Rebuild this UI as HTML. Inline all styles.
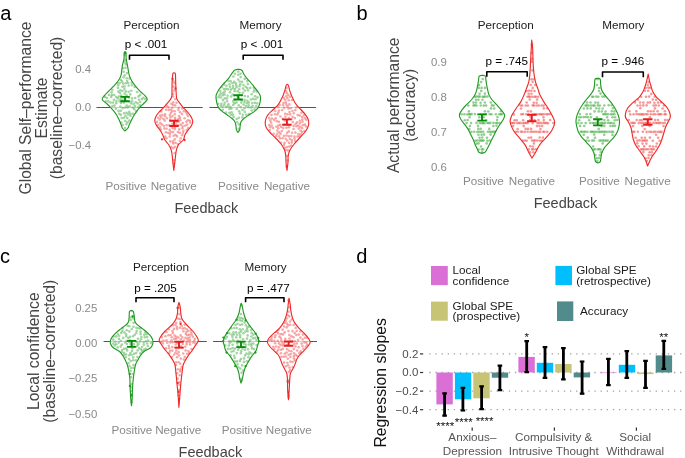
<!DOCTYPE html>
<html><head><meta charset="utf-8"><style>
html,body{margin:0;padding:0;background:#fff;width:685px;height:458px;overflow:hidden}
svg{display:block;will-change:transform}
text{font-family:"Liberation Sans", sans-serif}
</style></head><body>
<svg width="685" height="458" viewBox="0 0 685 458">
<text x="0.3" y="20.4" font-size="20.00" fill="#000" text-anchor="start" >a</text>
<g transform="translate(31.3,108.0) rotate(-90)">
<text x="0" y="0.0" font-size="15.65" fill="#444444" text-anchor="middle">Global Self–performance</text>
<text x="0" y="15.6" font-size="15.65" fill="#444444" text-anchor="middle">Estimate</text>
<text x="0" y="31.2" font-size="15.65" fill="#444444" text-anchor="middle">(baseline–corrected)</text>
</g>
<text x="91.0" y="72.7" font-size="11.40" fill="#8a8a8a" text-anchor="end" >0.4</text>
<text x="91.0" y="110.6" font-size="11.40" fill="#8a8a8a" text-anchor="end" >0.0</text>
<text x="91.0" y="148.5" font-size="11.40" fill="#8a8a8a" text-anchor="end" >−0.4</text>
<path d="M96.4,107.5 H202.7 M209.4,107.5 H316.1" stroke="#555" stroke-width="1.2"/>
<text x="151.5" y="28.7" font-size="11.70" fill="#1a1a1a" text-anchor="middle" >Perception</text>
<text x="260.5" y="28.7" font-size="11.70" fill="#1a1a1a" text-anchor="middle" >Memory</text>
<text x="146.0" y="48.0" font-size="11.70" fill="#000" text-anchor="middle" >p &lt; .001</text>
<text x="262.0" y="48.0" font-size="11.70" fill="#000" text-anchor="middle" >p &lt; .001</text>
<path d="M129.5,59.8 V55.2 H169.0 V59.8" fill="none" stroke="#000" stroke-width="1.6" stroke-linejoin="round"/>
<path d="M243.2,59.8 V55.2 H283.0 V59.8" fill="none" stroke="#000" stroke-width="1.6" stroke-linejoin="round"/>
<path d="M125.10,51.70 C124.95,51.88 124.38,51.60 124.20,52.80 C124.02,54.00 124.27,56.97 124.00,58.90 C123.73,60.83 122.97,62.58 122.60,64.40 C122.23,66.22 122.07,67.98 121.80,69.80 C121.53,71.62 121.58,73.47 121.00,75.30 C120.42,77.13 119.53,78.98 118.30,80.80 C117.07,82.62 115.28,84.38 113.60,86.20 C111.92,88.02 109.73,90.13 108.20,91.70 C106.67,93.27 105.40,94.28 104.40,95.60 C103.40,96.92 101.83,98.28 102.20,99.60 C102.57,100.92 105.22,102.20 106.60,103.50 C107.98,104.80 109.27,106.08 110.50,107.40 C111.73,108.72 112.92,110.02 114.00,111.40 C115.08,112.78 116.13,114.25 117.00,115.70 C117.87,117.15 118.53,118.63 119.20,120.10 C119.87,121.57 120.48,123.18 121.00,124.50 C121.52,125.82 121.65,126.92 122.30,128.00 C122.95,129.08 124.47,130.50 124.90,131.00 C125.42,130.50 127.27,129.08 128.00,128.00 C128.73,126.92 128.72,125.82 129.30,124.50 C129.88,123.18 130.77,121.57 131.50,120.10 C132.23,118.63 132.83,117.15 133.70,115.70 C134.57,114.25 135.68,112.78 136.70,111.40 C137.72,110.02 138.63,108.72 139.80,107.40 C140.97,106.08 142.47,104.80 143.70,103.50 C144.93,102.20 146.98,100.92 147.20,99.60 C147.42,98.28 146.13,96.92 145.00,95.60 C143.87,94.28 141.98,93.27 140.40,91.70 C138.82,90.13 136.95,88.02 135.50,86.20 C134.05,84.38 132.73,82.62 131.70,80.80 C130.67,78.98 129.88,77.13 129.30,75.30 C128.72,73.47 128.53,71.62 128.20,69.80 C127.87,67.98 127.63,66.22 127.30,64.40 C126.97,62.58 126.42,60.83 126.20,58.90 C125.98,56.97 126.18,54.00 126.00,52.80 C125.82,51.60 125.25,51.88 125.10,51.70 Z" fill="#fff" fill-opacity="0.72"/>
<g fill="#3aa83a" fill-opacity="0.48">
<circle cx="122.4" cy="91.0" r="1.30"/>
<circle cx="137.7" cy="103.4" r="1.30"/>
<circle cx="121.7" cy="118.0" r="1.30"/>
<circle cx="134.7" cy="87.0" r="1.30"/>
<circle cx="124.5" cy="86.4" r="1.30"/>
<circle cx="127.2" cy="118.1" r="1.30"/>
<circle cx="110.6" cy="102.6" r="1.30"/>
<circle cx="134.2" cy="108.9" r="1.30"/>
<circle cx="128.7" cy="91.8" r="1.30"/>
<circle cx="120.8" cy="114.9" r="1.30"/>
<circle cx="132.6" cy="107.5" r="1.30"/>
<circle cx="122.0" cy="81.4" r="1.30"/>
<circle cx="137.2" cy="92.0" r="1.30"/>
<circle cx="119.9" cy="93.0" r="1.30"/>
<circle cx="126.5" cy="112.8" r="1.30"/>
<circle cx="122.9" cy="97.5" r="1.30"/>
<circle cx="126.9" cy="73.1" r="1.30"/>
<circle cx="125.5" cy="115.9" r="1.30"/>
<circle cx="111.2" cy="96.9" r="1.30"/>
<circle cx="130.3" cy="94.4" r="1.30"/>
<circle cx="122.8" cy="100.3" r="1.30"/>
<circle cx="125.9" cy="64.4" r="1.30"/>
<circle cx="122.7" cy="108.1" r="1.30"/>
<circle cx="123.5" cy="77.2" r="1.30"/>
<circle cx="111.6" cy="92.2" r="1.30"/>
<circle cx="139.0" cy="99.7" r="1.30"/>
<circle cx="126.7" cy="105.5" r="1.30"/>
<circle cx="128.1" cy="83.0" r="1.30"/>
<circle cx="120.9" cy="110.7" r="1.30"/>
<circle cx="125.1" cy="107.5" r="1.30"/>
<circle cx="124.7" cy="75.2" r="1.30"/>
<circle cx="139.9" cy="105.2" r="1.30"/>
<circle cx="129.2" cy="111.9" r="1.30"/>
<circle cx="129.4" cy="120.5" r="1.30"/>
<circle cx="119.2" cy="113.7" r="1.30"/>
<circle cx="127.6" cy="122.3" r="1.30"/>
<circle cx="122.8" cy="125.1" r="1.30"/>
<circle cx="123.7" cy="71.8" r="1.30"/>
<circle cx="131.2" cy="103.4" r="1.30"/>
<circle cx="126.7" cy="78.2" r="1.30"/>
<circle cx="129.0" cy="97.6" r="1.30"/>
<circle cx="125.3" cy="60.2" r="1.30"/>
<circle cx="126.6" cy="95.3" r="1.30"/>
<circle cx="117.4" cy="83.1" r="1.30"/>
<circle cx="121.0" cy="103.0" r="1.30"/>
<circle cx="105.0" cy="96.9" r="1.30"/>
<circle cx="124.7" cy="93.6" r="1.30"/>
<circle cx="135.1" cy="106.1" r="1.30"/>
<circle cx="112.3" cy="89.7" r="1.30"/>
<circle cx="130.5" cy="115.8" r="1.30"/>
<circle cx="133.7" cy="104.0" r="1.30"/>
<circle cx="120.6" cy="99.3" r="1.30"/>
<circle cx="129.5" cy="101.5" r="1.30"/>
<circle cx="124.7" cy="62.5" r="1.30"/>
<circle cx="116.2" cy="97.1" r="1.30"/>
<circle cx="118.3" cy="91.6" r="1.30"/>
<circle cx="122.4" cy="86.8" r="1.30"/>
<circle cx="133.0" cy="113.8" r="1.30"/>
<circle cx="131.3" cy="90.7" r="1.30"/>
<circle cx="141.9" cy="99.1" r="1.30"/>
<circle cx="126.1" cy="100.9" r="1.30"/>
<circle cx="135.2" cy="98.0" r="1.30"/>
<circle cx="109.0" cy="94.9" r="1.30"/>
<circle cx="124.0" cy="117.8" r="1.30"/>
<circle cx="118.2" cy="85.2" r="1.30"/>
<circle cx="120.3" cy="106.5" r="1.30"/>
<circle cx="129.4" cy="106.3" r="1.30"/>
<circle cx="116.4" cy="101.1" r="1.30"/>
<circle cx="114.0" cy="99.8" r="1.30"/>
<circle cx="115.9" cy="108.7" r="1.30"/>
<circle cx="143.5" cy="97.7" r="1.30"/>
<circle cx="135.7" cy="102.3" r="1.30"/>
<circle cx="113.1" cy="102.6" r="1.30"/>
<circle cx="117.9" cy="98.5" r="1.30"/>
<circle cx="120.8" cy="79.7" r="1.30"/>
<circle cx="132.0" cy="85.3" r="1.30"/>
<circle cx="106.9" cy="98.0" r="1.30"/>
<circle cx="116.3" cy="103.3" r="1.30"/>
<circle cx="125.9" cy="91.4" r="1.30"/>
<circle cx="118.5" cy="110.9" r="1.30"/>
<circle cx="123.1" cy="83.6" r="1.30"/>
<circle cx="114.2" cy="95.0" r="1.30"/>
<circle cx="121.3" cy="122.5" r="1.30"/>
<circle cx="120.4" cy="90.3" r="1.30"/>
<circle cx="118.8" cy="96.6" r="1.30"/>
<circle cx="124.1" cy="113.3" r="1.30"/>
<circle cx="121.1" cy="95.5" r="1.30"/>
<circle cx="125.6" cy="67.7" r="1.30"/>
<circle cx="111.9" cy="94.9" r="1.30"/>
<circle cx="145.4" cy="99.2" r="1.30"/>
<circle cx="129.5" cy="78.5" r="1.30"/>
<circle cx="127.5" cy="107.4" r="1.30"/>
<circle cx="112.4" cy="106.0" r="1.30"/>
<circle cx="114.5" cy="105.6" r="1.30"/>
<circle cx="140.2" cy="94.9" r="1.30"/>
<circle cx="124.4" cy="89.1" r="1.30"/>
<circle cx="126.4" cy="124.1" r="1.30"/>
<circle cx="125.3" cy="98.1" r="1.30"/>
<circle cx="123.8" cy="102.6" r="1.30"/>
<circle cx="119.7" cy="83.1" r="1.30"/>
<circle cx="105.7" cy="101.3" r="1.30"/>
<circle cx="123.1" cy="68.3" r="1.30"/>
<circle cx="124.7" cy="55.1" r="1.30"/>
<circle cx="128.7" cy="85.5" r="1.30"/>
<circle cx="128.1" cy="114.4" r="1.30"/>
<circle cx="140.3" cy="102.0" r="1.30"/>
<circle cx="132.1" cy="98.4" r="1.30"/>
<circle cx="131.6" cy="82.8" r="1.30"/>
<circle cx="132.1" cy="101.3" r="1.30"/>
<circle cx="138.4" cy="107.3" r="1.30"/>
<circle cx="138.5" cy="96.4" r="1.30"/>
<circle cx="119.5" cy="101.3" r="1.30"/>
<circle cx="127.1" cy="81.1" r="1.30"/>
<circle cx="125.3" cy="121.0" r="1.30"/>
<circle cx="135.9" cy="111.0" r="1.30"/>
<circle cx="118.0" cy="87.9" r="1.30"/>
<circle cx="108.3" cy="101.4" r="1.30"/>
<circle cx="125.0" cy="128.0" r="1.30"/>
<circle cx="130.4" cy="113.7" r="1.30"/>
<circle cx="125.7" cy="83.2" r="1.30"/>
</g>
<path d="M125.10,51.70 C124.95,51.88 124.38,51.60 124.20,52.80 C124.02,54.00 124.27,56.97 124.00,58.90 C123.73,60.83 122.97,62.58 122.60,64.40 C122.23,66.22 122.07,67.98 121.80,69.80 C121.53,71.62 121.58,73.47 121.00,75.30 C120.42,77.13 119.53,78.98 118.30,80.80 C117.07,82.62 115.28,84.38 113.60,86.20 C111.92,88.02 109.73,90.13 108.20,91.70 C106.67,93.27 105.40,94.28 104.40,95.60 C103.40,96.92 101.83,98.28 102.20,99.60 C102.57,100.92 105.22,102.20 106.60,103.50 C107.98,104.80 109.27,106.08 110.50,107.40 C111.73,108.72 112.92,110.02 114.00,111.40 C115.08,112.78 116.13,114.25 117.00,115.70 C117.87,117.15 118.53,118.63 119.20,120.10 C119.87,121.57 120.48,123.18 121.00,124.50 C121.52,125.82 121.65,126.92 122.30,128.00 C122.95,129.08 124.47,130.50 124.90,131.00 C125.42,130.50 127.27,129.08 128.00,128.00 C128.73,126.92 128.72,125.82 129.30,124.50 C129.88,123.18 130.77,121.57 131.50,120.10 C132.23,118.63 132.83,117.15 133.70,115.70 C134.57,114.25 135.68,112.78 136.70,111.40 C137.72,110.02 138.63,108.72 139.80,107.40 C140.97,106.08 142.47,104.80 143.70,103.50 C144.93,102.20 146.98,100.92 147.20,99.60 C147.42,98.28 146.13,96.92 145.00,95.60 C143.87,94.28 141.98,93.27 140.40,91.70 C138.82,90.13 136.95,88.02 135.50,86.20 C134.05,84.38 132.73,82.62 131.70,80.80 C130.67,78.98 129.88,77.13 129.30,75.30 C128.72,73.47 128.53,71.62 128.20,69.80 C127.87,67.98 127.63,66.22 127.30,64.40 C126.97,62.58 126.42,60.83 126.20,58.90 C125.98,56.97 126.18,54.00 126.00,52.80 C125.82,51.60 125.25,51.88 125.10,51.70 Z" fill="none" stroke="#239a23" stroke-width="1.15" stroke-linejoin="round"/>
<path d="M120.3,96.9 H129.7 M120.3,101.3 H129.7 M125.0,96.9 V101.3" stroke="#0a8a0a" stroke-width="1.9" fill="none"/>
<path d="M174.10,73.00 C173.88,73.17 173.13,72.32 172.80,74.00 C172.47,75.68 172.23,80.43 172.10,83.10 C171.97,85.77 172.05,87.82 172.00,90.00 C171.95,92.18 172.05,94.63 171.80,96.20 C171.55,97.77 171.30,98.15 170.50,99.40 C169.70,100.65 168.23,102.25 167.00,103.70 C165.77,105.15 164.48,106.63 163.10,108.10 C161.72,109.57 159.93,111.03 158.70,112.50 C157.47,113.97 156.35,115.45 155.70,116.90 C155.05,118.35 154.65,119.75 154.80,121.20 C154.95,122.65 155.73,124.13 156.60,125.60 C157.47,127.07 158.97,128.45 160.00,130.00 C161.03,131.55 162.02,133.27 162.80,134.90 C163.58,136.53 163.72,138.17 164.70,139.80 C165.68,141.43 167.63,143.07 168.70,144.70 C169.77,146.33 170.53,147.95 171.10,149.60 C171.67,151.25 171.85,152.95 172.10,154.60 C172.35,156.25 172.43,157.87 172.60,159.50 C172.77,161.13 172.90,162.60 173.10,164.40 C173.30,166.20 173.68,169.32 173.80,170.30 C173.93,169.32 174.38,166.20 174.60,164.40 C174.82,162.60 174.92,161.13 175.10,159.50 C175.28,157.87 175.47,156.25 175.70,154.60 C175.93,152.95 176.03,151.25 176.50,149.60 C176.97,147.95 177.35,146.33 178.50,144.70 C179.65,143.07 182.33,141.43 183.40,139.80 C184.47,138.17 184.10,136.53 184.90,134.90 C185.70,133.27 187.10,131.55 188.20,130.00 C189.30,128.45 190.73,127.07 191.50,125.60 C192.27,124.13 192.87,122.65 192.80,121.20 C192.73,119.75 191.90,118.35 191.10,116.90 C190.30,115.45 189.23,113.97 188.00,112.50 C186.77,111.03 185.00,109.57 183.70,108.10 C182.40,106.63 181.30,105.15 180.20,103.70 C179.10,102.25 177.73,100.65 177.10,99.40 C176.47,98.15 176.58,97.77 176.40,96.20 C176.22,94.63 176.12,92.18 176.00,90.00 C175.88,87.82 175.80,85.77 175.70,83.10 C175.60,80.43 175.67,75.68 175.40,74.00 C175.13,72.32 174.32,73.17 174.10,73.00 Z" fill="#fff" fill-opacity="0.72"/>
<g fill="#f04848" fill-opacity="0.48">
<circle cx="166.5" cy="138.2" r="1.30"/>
<circle cx="177.9" cy="132.0" r="1.30"/>
<circle cx="160.8" cy="129.6" r="1.30"/>
<circle cx="169.8" cy="114.9" r="1.30"/>
<circle cx="165.0" cy="116.3" r="1.30"/>
<circle cx="166.9" cy="118.2" r="1.30"/>
<circle cx="176.1" cy="124.2" r="1.30"/>
<circle cx="175.0" cy="117.9" r="1.30"/>
<circle cx="189.9" cy="120.7" r="1.30"/>
<circle cx="186.4" cy="121.7" r="1.30"/>
<circle cx="173.3" cy="143.4" r="1.30"/>
<circle cx="174.5" cy="122.1" r="1.30"/>
<circle cx="177.1" cy="136.4" r="1.30"/>
<circle cx="190.3" cy="122.8" r="1.30"/>
<circle cx="165.2" cy="136.5" r="1.30"/>
<circle cx="174.6" cy="83.3" r="1.30"/>
<circle cx="182.0" cy="114.1" r="1.30"/>
<circle cx="183.0" cy="132.9" r="1.30"/>
<circle cx="163.4" cy="119.0" r="1.30"/>
<circle cx="169.7" cy="129.9" r="1.30"/>
<circle cx="160.3" cy="123.1" r="1.30"/>
<circle cx="170.8" cy="132.0" r="1.30"/>
<circle cx="174.8" cy="114.2" r="1.30"/>
<circle cx="172.4" cy="123.7" r="1.30"/>
<circle cx="165.8" cy="132.4" r="1.30"/>
<circle cx="172.4" cy="111.1" r="1.30"/>
<circle cx="172.2" cy="107.8" r="1.30"/>
<circle cx="164.7" cy="120.6" r="1.30"/>
<circle cx="180.7" cy="138.3" r="1.30"/>
<circle cx="170.2" cy="141.4" r="1.30"/>
<circle cx="174.2" cy="90.6" r="1.30"/>
<circle cx="170.2" cy="119.9" r="1.30"/>
<circle cx="180.1" cy="112.2" r="1.30"/>
<circle cx="177.8" cy="144.0" r="1.30"/>
<circle cx="172.5" cy="128.1" r="1.30"/>
<circle cx="180.4" cy="120.2" r="1.30"/>
<circle cx="169.3" cy="125.3" r="1.30"/>
<circle cx="187.9" cy="116.1" r="1.30"/>
<circle cx="175.3" cy="120.1" r="1.30"/>
<circle cx="169.7" cy="136.6" r="1.30"/>
<circle cx="187.1" cy="124.6" r="1.30"/>
<circle cx="168.7" cy="109.9" r="1.30"/>
<circle cx="161.1" cy="117.5" r="1.30"/>
<circle cx="179.1" cy="116.0" r="1.30"/>
<circle cx="186.1" cy="111.9" r="1.30"/>
<circle cx="173.9" cy="163.1" r="1.30"/>
<circle cx="161.4" cy="111.5" r="1.30"/>
<circle cx="168.4" cy="107.1" r="1.30"/>
<circle cx="171.4" cy="147.1" r="1.30"/>
<circle cx="163.8" cy="125.8" r="1.30"/>
<circle cx="178.3" cy="119.1" r="1.30"/>
<circle cx="170.4" cy="117.2" r="1.30"/>
<circle cx="173.1" cy="96.5" r="1.30"/>
<circle cx="160.1" cy="127.4" r="1.30"/>
<circle cx="157.1" cy="121.9" r="1.30"/>
<circle cx="174.7" cy="153.0" r="1.30"/>
<circle cx="173.5" cy="86.6" r="1.30"/>
<circle cx="178.5" cy="109.9" r="1.30"/>
<circle cx="166.1" cy="109.7" r="1.30"/>
<circle cx="179.8" cy="141.0" r="1.30"/>
<circle cx="179.3" cy="129.4" r="1.30"/>
<circle cx="172.9" cy="141.4" r="1.30"/>
<circle cx="175.5" cy="134.9" r="1.30"/>
<circle cx="175.2" cy="105.4" r="1.30"/>
<circle cx="174.8" cy="111.2" r="1.30"/>
<circle cx="166.6" cy="128.8" r="1.30"/>
<circle cx="179.8" cy="132.9" r="1.30"/>
<circle cx="173.6" cy="135.8" r="1.30"/>
<circle cx="159.7" cy="119.6" r="1.30"/>
<circle cx="178.2" cy="125.3" r="1.30"/>
<circle cx="160.1" cy="115.6" r="1.30"/>
<circle cx="174.2" cy="160.2" r="1.30"/>
<circle cx="164.3" cy="128.4" r="1.30"/>
<circle cx="172.4" cy="116.0" r="1.30"/>
<circle cx="165.0" cy="114.2" r="1.30"/>
<circle cx="180.0" cy="117.9" r="1.30"/>
<circle cx="175.1" cy="127.1" r="1.30"/>
<circle cx="173.0" cy="105.1" r="1.30"/>
<circle cx="182.4" cy="128.3" r="1.30"/>
<circle cx="176.6" cy="122.0" r="1.30"/>
<circle cx="176.5" cy="102.7" r="1.30"/>
<circle cx="168.2" cy="132.8" r="1.30"/>
<circle cx="182.1" cy="135.2" r="1.30"/>
<circle cx="188.2" cy="128.1" r="1.30"/>
<circle cx="158.2" cy="125.1" r="1.30"/>
<circle cx="170.8" cy="109.8" r="1.30"/>
<circle cx="175.3" cy="99.1" r="1.30"/>
<circle cx="166.7" cy="125.3" r="1.30"/>
<circle cx="174.8" cy="129.1" r="1.30"/>
<circle cx="158.2" cy="117.8" r="1.30"/>
<circle cx="182.8" cy="123.1" r="1.30"/>
<circle cx="175.5" cy="142.7" r="1.30"/>
<circle cx="173.0" cy="132.1" r="1.30"/>
<circle cx="162.4" cy="115.1" r="1.30"/>
<circle cx="166.5" cy="105.9" r="1.30"/>
<circle cx="186.8" cy="130.0" r="1.30"/>
<circle cx="186.9" cy="114.1" r="1.30"/>
<circle cx="173.1" cy="93.9" r="1.30"/>
<circle cx="169.9" cy="134.1" r="1.30"/>
<circle cx="173.3" cy="148.2" r="1.30"/>
<circle cx="184.6" cy="118.3" r="1.30"/>
<circle cx="171.0" cy="112.7" r="1.30"/>
<circle cx="183.9" cy="111.3" r="1.30"/>
<circle cx="173.3" cy="102.4" r="1.30"/>
<circle cx="161.8" cy="124.6" r="1.30"/>
<circle cx="174.7" cy="139.4" r="1.30"/>
<circle cx="185.2" cy="125.7" r="1.30"/>
<circle cx="188.0" cy="120.2" r="1.30"/>
<circle cx="182.3" cy="108.6" r="1.30"/>
<circle cx="178.7" cy="121.7" r="1.30"/>
<circle cx="180.7" cy="124.6" r="1.30"/>
<circle cx="183.4" cy="130.8" r="1.30"/>
<circle cx="175.0" cy="146.8" r="1.30"/>
<circle cx="171.4" cy="103.7" r="1.30"/>
<circle cx="178.7" cy="107.8" r="1.30"/>
<circle cx="173.6" cy="81.4" r="1.30"/>
<circle cx="182.6" cy="126.2" r="1.30"/>
</g>
<path d="M174.10,73.00 C173.88,73.17 173.13,72.32 172.80,74.00 C172.47,75.68 172.23,80.43 172.10,83.10 C171.97,85.77 172.05,87.82 172.00,90.00 C171.95,92.18 172.05,94.63 171.80,96.20 C171.55,97.77 171.30,98.15 170.50,99.40 C169.70,100.65 168.23,102.25 167.00,103.70 C165.77,105.15 164.48,106.63 163.10,108.10 C161.72,109.57 159.93,111.03 158.70,112.50 C157.47,113.97 156.35,115.45 155.70,116.90 C155.05,118.35 154.65,119.75 154.80,121.20 C154.95,122.65 155.73,124.13 156.60,125.60 C157.47,127.07 158.97,128.45 160.00,130.00 C161.03,131.55 162.02,133.27 162.80,134.90 C163.58,136.53 163.72,138.17 164.70,139.80 C165.68,141.43 167.63,143.07 168.70,144.70 C169.77,146.33 170.53,147.95 171.10,149.60 C171.67,151.25 171.85,152.95 172.10,154.60 C172.35,156.25 172.43,157.87 172.60,159.50 C172.77,161.13 172.90,162.60 173.10,164.40 C173.30,166.20 173.68,169.32 173.80,170.30 C173.93,169.32 174.38,166.20 174.60,164.40 C174.82,162.60 174.92,161.13 175.10,159.50 C175.28,157.87 175.47,156.25 175.70,154.60 C175.93,152.95 176.03,151.25 176.50,149.60 C176.97,147.95 177.35,146.33 178.50,144.70 C179.65,143.07 182.33,141.43 183.40,139.80 C184.47,138.17 184.10,136.53 184.90,134.90 C185.70,133.27 187.10,131.55 188.20,130.00 C189.30,128.45 190.73,127.07 191.50,125.60 C192.27,124.13 192.87,122.65 192.80,121.20 C192.73,119.75 191.90,118.35 191.10,116.90 C190.30,115.45 189.23,113.97 188.00,112.50 C186.77,111.03 185.00,109.57 183.70,108.10 C182.40,106.63 181.30,105.15 180.20,103.70 C179.10,102.25 177.73,100.65 177.10,99.40 C176.47,98.15 176.58,97.77 176.40,96.20 C176.22,94.63 176.12,92.18 176.00,90.00 C175.88,87.82 175.80,85.77 175.70,83.10 C175.60,80.43 175.67,75.68 175.40,74.00 C175.13,72.32 174.32,73.17 174.10,73.00 Z" fill="none" stroke="#f02a2a" stroke-width="1.15" stroke-linejoin="round"/>
<path d="M169.3,120.8 H178.7 M169.3,126.0 H178.7 M174.0,120.8 V126.0" stroke="#e81c1c" stroke-width="1.9" fill="none"/>
<path d="M238.40,69.30 C237.77,69.47 235.70,69.57 234.60,70.30 C233.50,71.03 232.77,72.40 231.80,73.70 C230.83,75.00 229.97,76.63 228.80,78.10 C227.63,79.57 226.12,81.05 224.80,82.50 C223.48,83.95 222.05,85.35 220.90,86.80 C219.75,88.25 218.70,89.73 217.90,91.20 C217.10,92.67 216.37,94.15 216.10,95.60 C215.83,97.05 216.12,98.45 216.30,99.90 C216.48,101.35 216.80,102.97 217.20,104.30 C217.60,105.63 217.87,106.72 218.70,107.90 C219.53,109.08 220.82,110.25 222.20,111.40 C223.58,112.55 225.40,113.65 227.00,114.80 C228.60,115.95 230.48,117.13 231.80,118.30 C233.12,119.47 234.20,120.48 234.90,121.80 C235.60,123.12 235.75,124.88 236.00,126.20 C236.25,127.52 236.08,128.65 236.40,129.70 C236.72,130.75 237.65,132.03 237.90,132.50 C238.20,132.03 239.33,130.75 239.70,129.70 C240.07,128.65 239.88,127.52 240.10,126.20 C240.32,124.88 240.33,123.12 241.00,121.80 C241.67,120.48 242.72,119.47 244.10,118.30 C245.48,117.13 247.57,115.95 249.30,114.80 C251.03,113.65 253.05,112.55 254.50,111.40 C255.95,110.25 257.17,109.08 258.00,107.90 C258.83,106.72 259.10,105.63 259.50,104.30 C259.90,102.97 260.28,101.35 260.40,99.90 C260.52,98.45 260.67,97.05 260.20,95.60 C259.73,94.15 258.62,92.67 257.60,91.20 C256.58,89.73 255.27,88.25 254.10,86.80 C252.93,85.35 251.83,83.95 250.60,82.50 C249.37,81.05 247.87,79.57 246.70,78.10 C245.53,76.63 244.42,75.00 243.60,73.70 C242.78,72.40 242.67,71.03 241.80,70.30 C240.93,69.57 238.97,69.47 238.40,69.30 Z" fill="#fff" fill-opacity="0.72"/>
<g fill="#3aa83a" fill-opacity="0.48">
<circle cx="240.2" cy="84.3" r="1.30"/>
<circle cx="242.9" cy="92.7" r="1.30"/>
<circle cx="226.5" cy="85.7" r="1.30"/>
<circle cx="237.2" cy="122.2" r="1.30"/>
<circle cx="222.8" cy="109.7" r="1.30"/>
<circle cx="254.6" cy="109.4" r="1.30"/>
<circle cx="248.9" cy="102.4" r="1.30"/>
<circle cx="242.3" cy="117.2" r="1.30"/>
<circle cx="251.6" cy="94.3" r="1.30"/>
<circle cx="257.5" cy="97.4" r="1.30"/>
<circle cx="229.4" cy="108.9" r="1.30"/>
<circle cx="233.2" cy="101.4" r="1.30"/>
<circle cx="256.2" cy="106.2" r="1.30"/>
<circle cx="222.8" cy="95.2" r="1.30"/>
<circle cx="250.2" cy="87.9" r="1.30"/>
<circle cx="230.8" cy="114.7" r="1.30"/>
<circle cx="234.2" cy="81.8" r="1.30"/>
<circle cx="239.1" cy="98.4" r="1.30"/>
<circle cx="242.5" cy="110.0" r="1.30"/>
<circle cx="243.6" cy="104.6" r="1.30"/>
<circle cx="238.6" cy="128.7" r="1.30"/>
<circle cx="248.0" cy="96.6" r="1.30"/>
<circle cx="229.4" cy="84.3" r="1.30"/>
<circle cx="241.8" cy="95.5" r="1.30"/>
<circle cx="236.8" cy="108.9" r="1.30"/>
<circle cx="231.7" cy="112.2" r="1.30"/>
<circle cx="248.8" cy="114.0" r="1.30"/>
<circle cx="236.3" cy="85.2" r="1.30"/>
<circle cx="230.3" cy="106.8" r="1.30"/>
<circle cx="230.0" cy="92.3" r="1.30"/>
<circle cx="232.8" cy="88.3" r="1.30"/>
<circle cx="248.7" cy="105.3" r="1.30"/>
<circle cx="226.0" cy="88.9" r="1.30"/>
<circle cx="230.9" cy="89.6" r="1.30"/>
<circle cx="244.9" cy="90.6" r="1.30"/>
<circle cx="224.6" cy="102.8" r="1.30"/>
<circle cx="228.4" cy="80.9" r="1.30"/>
<circle cx="234.6" cy="91.2" r="1.30"/>
<circle cx="234.2" cy="95.8" r="1.30"/>
<circle cx="239.1" cy="111.2" r="1.30"/>
<circle cx="250.8" cy="99.5" r="1.30"/>
<circle cx="224.8" cy="91.5" r="1.30"/>
<circle cx="252.3" cy="103.1" r="1.30"/>
<circle cx="239.5" cy="86.3" r="1.30"/>
<circle cx="237.0" cy="96.0" r="1.30"/>
<circle cx="238.3" cy="74.7" r="1.30"/>
<circle cx="230.7" cy="81.4" r="1.30"/>
<circle cx="240.7" cy="77.1" r="1.30"/>
<circle cx="232.9" cy="114.6" r="1.30"/>
<circle cx="247.2" cy="100.7" r="1.30"/>
<circle cx="227.0" cy="98.4" r="1.30"/>
<circle cx="246.9" cy="103.2" r="1.30"/>
<circle cx="234.9" cy="73.8" r="1.30"/>
<circle cx="255.1" cy="96.2" r="1.30"/>
<circle cx="238.8" cy="117.8" r="1.30"/>
<circle cx="224.1" cy="84.6" r="1.30"/>
<circle cx="243.4" cy="85.1" r="1.30"/>
<circle cx="233.5" cy="116.9" r="1.30"/>
<circle cx="244.6" cy="99.9" r="1.30"/>
<circle cx="242.0" cy="81.9" r="1.30"/>
<circle cx="247.3" cy="88.0" r="1.30"/>
<circle cx="227.9" cy="106.2" r="1.30"/>
<circle cx="253.1" cy="98.9" r="1.30"/>
<circle cx="247.9" cy="84.1" r="1.30"/>
<circle cx="247.3" cy="81.1" r="1.30"/>
<circle cx="234.9" cy="89.1" r="1.30"/>
<circle cx="246.0" cy="106.0" r="1.30"/>
<circle cx="221.4" cy="103.7" r="1.30"/>
<circle cx="245.6" cy="86.7" r="1.30"/>
<circle cx="251.8" cy="110.6" r="1.30"/>
<circle cx="246.2" cy="114.7" r="1.30"/>
<circle cx="224.2" cy="105.1" r="1.30"/>
<circle cx="248.0" cy="90.3" r="1.30"/>
<circle cx="240.7" cy="107.1" r="1.30"/>
<circle cx="223.9" cy="89.0" r="1.30"/>
<circle cx="233.1" cy="86.1" r="1.30"/>
<circle cx="227.1" cy="101.2" r="1.30"/>
<circle cx="253.6" cy="91.6" r="1.30"/>
<circle cx="222.6" cy="106.7" r="1.30"/>
<circle cx="224.7" cy="94.5" r="1.30"/>
<circle cx="241.3" cy="102.6" r="1.30"/>
<circle cx="229.4" cy="112.7" r="1.30"/>
<circle cx="248.3" cy="107.3" r="1.30"/>
<circle cx="236.5" cy="102.4" r="1.30"/>
<circle cx="239.6" cy="81.5" r="1.30"/>
<circle cx="238.3" cy="71.6" r="1.30"/>
<circle cx="257.3" cy="103.4" r="1.30"/>
<circle cx="254.7" cy="89.7" r="1.30"/>
<circle cx="238.1" cy="79.5" r="1.30"/>
<circle cx="239.9" cy="113.5" r="1.30"/>
<circle cx="244.9" cy="96.0" r="1.30"/>
<circle cx="239.5" cy="92.7" r="1.30"/>
<circle cx="226.0" cy="107.0" r="1.30"/>
<circle cx="224.8" cy="98.4" r="1.30"/>
<circle cx="231.4" cy="108.6" r="1.30"/>
<circle cx="236.7" cy="119.1" r="1.30"/>
<circle cx="220.3" cy="91.1" r="1.30"/>
<circle cx="243.0" cy="88.6" r="1.30"/>
<circle cx="253.8" cy="87.8" r="1.30"/>
<circle cx="233.4" cy="76.5" r="1.30"/>
<circle cx="242.9" cy="114.8" r="1.30"/>
<circle cx="222.9" cy="100.1" r="1.30"/>
<circle cx="244.7" cy="78.9" r="1.30"/>
<circle cx="251.0" cy="107.5" r="1.30"/>
<circle cx="244.5" cy="108.2" r="1.30"/>
<circle cx="221.0" cy="97.5" r="1.30"/>
<circle cx="237.6" cy="91.2" r="1.30"/>
<circle cx="240.6" cy="73.8" r="1.30"/>
<circle cx="234.7" cy="103.2" r="1.30"/>
<circle cx="244.4" cy="102.1" r="1.30"/>
<circle cx="219.5" cy="95.3" r="1.30"/>
<circle cx="223.2" cy="92.8" r="1.30"/>
<circle cx="236.6" cy="87.3" r="1.30"/>
<circle cx="231.1" cy="96.6" r="1.30"/>
<circle cx="227.6" cy="95.7" r="1.30"/>
<circle cx="228.5" cy="104.2" r="1.30"/>
<circle cx="239.1" cy="95.5" r="1.30"/>
<circle cx="239.2" cy="89.2" r="1.30"/>
<circle cx="228.1" cy="89.3" r="1.30"/>
<circle cx="221.9" cy="87.1" r="1.30"/>
<circle cx="218.2" cy="103.8" r="1.30"/>
<circle cx="244.8" cy="111.9" r="1.30"/>
<circle cx="220.8" cy="93.5" r="1.30"/>
<circle cx="256.6" cy="91.6" r="1.30"/>
<circle cx="254.9" cy="102.9" r="1.30"/>
<circle cx="232.6" cy="94.5" r="1.30"/>
<circle cx="232.5" cy="83.2" r="1.30"/>
<circle cx="255.5" cy="99.3" r="1.30"/>
<circle cx="234.8" cy="99.6" r="1.30"/>
<circle cx="235.7" cy="83.2" r="1.30"/>
<circle cx="218.6" cy="97.3" r="1.30"/>
<circle cx="241.7" cy="100.3" r="1.30"/>
<circle cx="225.9" cy="112.6" r="1.30"/>
<circle cx="252.6" cy="106.1" r="1.30"/>
<circle cx="233.2" cy="104.9" r="1.30"/>
<circle cx="220.8" cy="105.7" r="1.30"/>
<circle cx="238.9" cy="124.2" r="1.30"/>
<circle cx="230.0" cy="86.8" r="1.30"/>
<circle cx="238.7" cy="105.4" r="1.30"/>
</g>
<path d="M238.40,69.30 C237.77,69.47 235.70,69.57 234.60,70.30 C233.50,71.03 232.77,72.40 231.80,73.70 C230.83,75.00 229.97,76.63 228.80,78.10 C227.63,79.57 226.12,81.05 224.80,82.50 C223.48,83.95 222.05,85.35 220.90,86.80 C219.75,88.25 218.70,89.73 217.90,91.20 C217.10,92.67 216.37,94.15 216.10,95.60 C215.83,97.05 216.12,98.45 216.30,99.90 C216.48,101.35 216.80,102.97 217.20,104.30 C217.60,105.63 217.87,106.72 218.70,107.90 C219.53,109.08 220.82,110.25 222.20,111.40 C223.58,112.55 225.40,113.65 227.00,114.80 C228.60,115.95 230.48,117.13 231.80,118.30 C233.12,119.47 234.20,120.48 234.90,121.80 C235.60,123.12 235.75,124.88 236.00,126.20 C236.25,127.52 236.08,128.65 236.40,129.70 C236.72,130.75 237.65,132.03 237.90,132.50 C238.20,132.03 239.33,130.75 239.70,129.70 C240.07,128.65 239.88,127.52 240.10,126.20 C240.32,124.88 240.33,123.12 241.00,121.80 C241.67,120.48 242.72,119.47 244.10,118.30 C245.48,117.13 247.57,115.95 249.30,114.80 C251.03,113.65 253.05,112.55 254.50,111.40 C255.95,110.25 257.17,109.08 258.00,107.90 C258.83,106.72 259.10,105.63 259.50,104.30 C259.90,102.97 260.28,101.35 260.40,99.90 C260.52,98.45 260.67,97.05 260.20,95.60 C259.73,94.15 258.62,92.67 257.60,91.20 C256.58,89.73 255.27,88.25 254.10,86.80 C252.93,85.35 251.83,83.95 250.60,82.50 C249.37,81.05 247.87,79.57 246.70,78.10 C245.53,76.63 244.42,75.00 243.60,73.70 C242.78,72.40 242.67,71.03 241.80,70.30 C240.93,69.57 238.97,69.47 238.40,69.30 Z" fill="none" stroke="#239a23" stroke-width="1.15" stroke-linejoin="round"/>
<path d="M233.5,95.1 H242.9 M233.5,99.5 H242.9 M238.2,95.1 V99.5" stroke="#0a8a0a" stroke-width="1.9" fill="none"/>
<path d="M287.30,84.40 C287.10,84.60 286.48,84.70 286.10,85.60 C285.72,86.50 285.45,88.28 285.00,89.80 C284.55,91.32 284.05,93.07 283.40,94.70 C282.75,96.33 281.97,97.95 281.10,99.60 C280.23,101.25 279.50,102.95 278.20,104.60 C276.90,106.25 274.95,107.87 273.30,109.50 C271.65,111.13 269.57,112.77 268.30,114.40 C267.03,116.03 266.20,117.67 265.70,119.30 C265.20,120.93 265.17,122.75 265.30,124.20 C265.43,125.65 265.78,126.70 266.50,128.00 C267.22,129.30 268.08,130.33 269.60,132.00 C271.12,133.67 273.70,136.00 275.60,138.00 C277.50,140.00 279.50,142.00 281.00,144.00 C282.50,146.00 283.80,148.00 284.60,150.00 C285.40,152.00 285.57,154.00 285.80,156.00 C286.03,158.00 285.80,159.60 286.00,162.00 C286.20,164.40 286.83,169.00 287.00,170.40 C287.17,169.00 287.80,164.40 288.00,162.00 C288.20,159.60 287.87,158.00 288.20,156.00 C288.53,154.00 289.00,152.00 290.00,150.00 C291.00,148.00 292.60,146.00 294.20,144.00 C295.80,142.00 297.80,140.00 299.60,138.00 C301.40,136.00 303.68,133.67 305.00,132.00 C306.32,130.33 306.88,129.30 307.50,128.00 C308.12,126.70 308.60,125.65 308.70,124.20 C308.80,122.75 308.68,120.93 308.10,119.30 C307.52,117.67 306.42,116.03 305.20,114.40 C303.98,112.77 302.28,111.13 300.80,109.50 C299.32,107.87 297.53,106.25 296.30,104.60 C295.07,102.95 294.25,101.25 293.40,99.60 C292.55,97.95 291.85,96.33 291.20,94.70 C290.55,93.07 289.95,91.32 289.50,89.80 C289.05,88.28 288.87,86.50 288.50,85.60 C288.13,84.70 287.50,84.60 287.30,84.40 Z" fill="#fff" fill-opacity="0.72"/>
<g fill="#f04848" fill-opacity="0.48">
<circle cx="272.0" cy="118.5" r="1.30"/>
<circle cx="277.3" cy="130.6" r="1.30"/>
<circle cx="292.5" cy="111.0" r="1.30"/>
<circle cx="294.5" cy="136.5" r="1.30"/>
<circle cx="273.0" cy="127.9" r="1.30"/>
<circle cx="269.2" cy="125.1" r="1.30"/>
<circle cx="283.3" cy="128.1" r="1.30"/>
<circle cx="284.0" cy="135.9" r="1.30"/>
<circle cx="288.5" cy="108.5" r="1.30"/>
<circle cx="280.2" cy="124.9" r="1.30"/>
<circle cx="274.1" cy="119.9" r="1.30"/>
<circle cx="297.7" cy="115.0" r="1.30"/>
<circle cx="289.5" cy="112.0" r="1.30"/>
<circle cx="279.7" cy="104.8" r="1.30"/>
<circle cx="285.2" cy="99.7" r="1.30"/>
<circle cx="306.2" cy="119.7" r="1.30"/>
<circle cx="271.2" cy="122.6" r="1.30"/>
<circle cx="286.6" cy="87.9" r="1.30"/>
<circle cx="288.3" cy="94.9" r="1.30"/>
<circle cx="283.1" cy="105.2" r="1.30"/>
<circle cx="286.9" cy="155.9" r="1.30"/>
<circle cx="293.8" cy="113.3" r="1.30"/>
<circle cx="295.1" cy="140.7" r="1.30"/>
<circle cx="290.0" cy="139.0" r="1.30"/>
<circle cx="288.1" cy="124.9" r="1.30"/>
<circle cx="286.5" cy="135.5" r="1.30"/>
<circle cx="288.0" cy="150.4" r="1.30"/>
<circle cx="281.8" cy="131.1" r="1.30"/>
<circle cx="286.4" cy="104.5" r="1.30"/>
<circle cx="287.5" cy="160.5" r="1.30"/>
<circle cx="302.5" cy="121.7" r="1.30"/>
<circle cx="299.9" cy="120.7" r="1.30"/>
<circle cx="304.5" cy="131.0" r="1.30"/>
<circle cx="296.4" cy="126.2" r="1.30"/>
<circle cx="291.8" cy="142.6" r="1.30"/>
<circle cx="304.9" cy="124.6" r="1.30"/>
<circle cx="280.5" cy="133.9" r="1.30"/>
<circle cx="278.3" cy="112.5" r="1.30"/>
<circle cx="291.3" cy="119.3" r="1.30"/>
<circle cx="275.3" cy="111.0" r="1.30"/>
<circle cx="282.7" cy="118.8" r="1.30"/>
<circle cx="288.7" cy="100.2" r="1.30"/>
<circle cx="278.9" cy="136.3" r="1.30"/>
<circle cx="289.0" cy="142.9" r="1.30"/>
<circle cx="295.4" cy="132.6" r="1.30"/>
<circle cx="289.3" cy="146.6" r="1.30"/>
<circle cx="294.9" cy="118.1" r="1.30"/>
<circle cx="289.3" cy="104.4" r="1.30"/>
<circle cx="302.1" cy="117.0" r="1.30"/>
<circle cx="280.0" cy="138.2" r="1.30"/>
<circle cx="289.0" cy="127.2" r="1.30"/>
<circle cx="276.1" cy="135.8" r="1.30"/>
<circle cx="271.6" cy="125.5" r="1.30"/>
<circle cx="303.9" cy="115.3" r="1.30"/>
<circle cx="282.2" cy="110.0" r="1.30"/>
<circle cx="295.3" cy="110.1" r="1.30"/>
<circle cx="287.5" cy="106.4" r="1.30"/>
<circle cx="270.2" cy="127.3" r="1.30"/>
<circle cx="285.1" cy="113.7" r="1.30"/>
<circle cx="286.1" cy="96.3" r="1.30"/>
<circle cx="288.8" cy="131.4" r="1.30"/>
<circle cx="273.7" cy="133.7" r="1.30"/>
<circle cx="285.4" cy="116.7" r="1.30"/>
<circle cx="270.3" cy="120.4" r="1.30"/>
<circle cx="292.0" cy="100.0" r="1.30"/>
<circle cx="291.3" cy="136.0" r="1.30"/>
<circle cx="278.9" cy="121.8" r="1.30"/>
<circle cx="291.2" cy="145.6" r="1.30"/>
<circle cx="288.9" cy="136.4" r="1.30"/>
<circle cx="302.9" cy="125.3" r="1.30"/>
<circle cx="285.8" cy="102.4" r="1.30"/>
<circle cx="290.8" cy="108.2" r="1.30"/>
<circle cx="293.6" cy="125.9" r="1.30"/>
<circle cx="279.0" cy="110.5" r="1.30"/>
<circle cx="301.5" cy="112.7" r="1.30"/>
<circle cx="275.8" cy="118.2" r="1.30"/>
<circle cx="297.1" cy="122.4" r="1.30"/>
<circle cx="306.0" cy="126.5" r="1.30"/>
<circle cx="269.1" cy="118.1" r="1.30"/>
<circle cx="294.5" cy="138.5" r="1.30"/>
<circle cx="285.7" cy="150.1" r="1.30"/>
<circle cx="296.4" cy="107.2" r="1.30"/>
<circle cx="287.4" cy="114.3" r="1.30"/>
<circle cx="277.2" cy="133.8" r="1.30"/>
<circle cx="290.2" cy="114.4" r="1.30"/>
<circle cx="283.9" cy="144.9" r="1.30"/>
<circle cx="288.9" cy="118.0" r="1.30"/>
<circle cx="291.9" cy="140.4" r="1.30"/>
<circle cx="286.5" cy="127.7" r="1.30"/>
<circle cx="287.4" cy="98.0" r="1.30"/>
<circle cx="282.6" cy="138.3" r="1.30"/>
<circle cx="284.2" cy="107.8" r="1.30"/>
<circle cx="276.4" cy="126.8" r="1.30"/>
<circle cx="280.4" cy="116.5" r="1.30"/>
<circle cx="299.7" cy="115.6" r="1.30"/>
<circle cx="298.8" cy="128.6" r="1.30"/>
<circle cx="276.8" cy="121.2" r="1.30"/>
<circle cx="277.4" cy="114.5" r="1.30"/>
<circle cx="293.5" cy="129.0" r="1.30"/>
<circle cx="274.9" cy="114.3" r="1.30"/>
<circle cx="284.8" cy="120.6" r="1.30"/>
<circle cx="287.2" cy="140.5" r="1.30"/>
<circle cx="286.8" cy="93.1" r="1.30"/>
<circle cx="284.4" cy="124.5" r="1.30"/>
<circle cx="302.3" cy="119.6" r="1.30"/>
<circle cx="292.8" cy="122.1" r="1.30"/>
<circle cx="278.3" cy="128.3" r="1.30"/>
<circle cx="287.3" cy="120.1" r="1.30"/>
<circle cx="302.0" cy="132.1" r="1.30"/>
<circle cx="283.5" cy="103.0" r="1.30"/>
<circle cx="286.1" cy="91.0" r="1.30"/>
<circle cx="290.0" cy="96.8" r="1.30"/>
<circle cx="278.3" cy="107.1" r="1.30"/>
<circle cx="300.4" cy="126.8" r="1.30"/>
<circle cx="297.5" cy="136.6" r="1.30"/>
<circle cx="285.7" cy="138.7" r="1.30"/>
<circle cx="298.3" cy="134.1" r="1.30"/>
<circle cx="283.8" cy="98.1" r="1.30"/>
<circle cx="269.7" cy="130.0" r="1.30"/>
<circle cx="284.6" cy="142.9" r="1.30"/>
<circle cx="278.3" cy="125.6" r="1.30"/>
<circle cx="287.1" cy="132.7" r="1.30"/>
<circle cx="286.5" cy="166.6" r="1.30"/>
<circle cx="281.2" cy="127.1" r="1.30"/>
<circle cx="302.1" cy="128.2" r="1.30"/>
<circle cx="298.3" cy="125.6" r="1.30"/>
<circle cx="300.7" cy="134.4" r="1.30"/>
<circle cx="292.1" cy="132.8" r="1.30"/>
<circle cx="300.5" cy="130.8" r="1.30"/>
<circle cx="271.5" cy="115.0" r="1.30"/>
<circle cx="279.2" cy="132.3" r="1.30"/>
<circle cx="292.6" cy="116.9" r="1.30"/>
<circle cx="281.0" cy="142.8" r="1.30"/>
<circle cx="284.9" cy="147.7" r="1.30"/>
<circle cx="299.6" cy="136.2" r="1.30"/>
<circle cx="304.8" cy="118.1" r="1.30"/>
<circle cx="300.1" cy="123.3" r="1.30"/>
<circle cx="287.0" cy="147.1" r="1.30"/>
<circle cx="295.6" cy="123.9" r="1.30"/>
</g>
<path d="M287.30,84.40 C287.10,84.60 286.48,84.70 286.10,85.60 C285.72,86.50 285.45,88.28 285.00,89.80 C284.55,91.32 284.05,93.07 283.40,94.70 C282.75,96.33 281.97,97.95 281.10,99.60 C280.23,101.25 279.50,102.95 278.20,104.60 C276.90,106.25 274.95,107.87 273.30,109.50 C271.65,111.13 269.57,112.77 268.30,114.40 C267.03,116.03 266.20,117.67 265.70,119.30 C265.20,120.93 265.17,122.75 265.30,124.20 C265.43,125.65 265.78,126.70 266.50,128.00 C267.22,129.30 268.08,130.33 269.60,132.00 C271.12,133.67 273.70,136.00 275.60,138.00 C277.50,140.00 279.50,142.00 281.00,144.00 C282.50,146.00 283.80,148.00 284.60,150.00 C285.40,152.00 285.57,154.00 285.80,156.00 C286.03,158.00 285.80,159.60 286.00,162.00 C286.20,164.40 286.83,169.00 287.00,170.40 C287.17,169.00 287.80,164.40 288.00,162.00 C288.20,159.60 287.87,158.00 288.20,156.00 C288.53,154.00 289.00,152.00 290.00,150.00 C291.00,148.00 292.60,146.00 294.20,144.00 C295.80,142.00 297.80,140.00 299.60,138.00 C301.40,136.00 303.68,133.67 305.00,132.00 C306.32,130.33 306.88,129.30 307.50,128.00 C308.12,126.70 308.60,125.65 308.70,124.20 C308.80,122.75 308.68,120.93 308.10,119.30 C307.52,117.67 306.42,116.03 305.20,114.40 C303.98,112.77 302.28,111.13 300.80,109.50 C299.32,107.87 297.53,106.25 296.30,104.60 C295.07,102.95 294.25,101.25 293.40,99.60 C292.55,97.95 291.85,96.33 291.20,94.70 C290.55,93.07 289.95,91.32 289.50,89.80 C289.05,88.28 288.87,86.50 288.50,85.60 C288.13,84.70 287.50,84.60 287.30,84.40 Z" fill="none" stroke="#f02a2a" stroke-width="1.15" stroke-linejoin="round"/>
<path d="M282.2,119.4 H291.6 M282.2,124.8 H291.6 M286.9,119.4 V124.8" stroke="#e81c1c" stroke-width="1.9" fill="none"/>
<g fill="#ee2a2a">
<circle cx="162.0" cy="139.3" r="1.15"/>
<circle cx="184.5" cy="140.0" r="1.15"/>
<circle cx="172.6" cy="79.0" r="1.15"/>
<circle cx="175.5" cy="88.5" r="1.15"/>
</g>
<circle cx="125.1" cy="53" r="1.2" fill="#1f9a1f"/>
<text x="126.0" y="189.9" font-size="11.70" fill="#8a8a8a" text-anchor="middle" >Positive</text>
<text x="173.7" y="189.9" font-size="11.70" fill="#8a8a8a" text-anchor="middle" >Negative</text>
<text x="238.5" y="189.9" font-size="11.70" fill="#8a8a8a" text-anchor="middle" >Positive</text>
<text x="287.0" y="189.9" font-size="11.70" fill="#8a8a8a" text-anchor="middle" >Negative</text>
<text x="206.3" y="212.7" font-size="14.50" fill="#444444" text-anchor="middle" >Feedback</text>
<text x="356.5" y="20.1" font-size="20.00" fill="#000" text-anchor="start" >b</text>
<g transform="translate(399.4,105.3) rotate(-90)">
<text x="0" y="0.0" font-size="15.65" fill="#444444" text-anchor="middle">Actual performance</text>
<text x="0" y="15.8" font-size="15.65" fill="#444444" text-anchor="middle">(accuracy)</text>
</g>
<text x="446.8" y="65.8" font-size="11.40" fill="#8a8a8a" text-anchor="end" >0.9</text>
<text x="446.8" y="100.9" font-size="11.40" fill="#8a8a8a" text-anchor="end" >0.8</text>
<text x="446.8" y="136.0" font-size="11.40" fill="#8a8a8a" text-anchor="end" >0.7</text>
<text x="446.8" y="171.1" font-size="11.40" fill="#8a8a8a" text-anchor="end" >0.6</text>
<text x="505.7" y="28.7" font-size="11.70" fill="#1a1a1a" text-anchor="middle" >Perception</text>
<text x="623.3" y="28.7" font-size="11.70" fill="#1a1a1a" text-anchor="middle" >Memory</text>
<text x="506.8" y="64.5" font-size="11.70" fill="#000" text-anchor="middle" >p = .745</text>
<text x="622.9" y="64.5" font-size="11.70" fill="#000" text-anchor="middle" >p = .946</text>
<path d="M486.8,76.8 V71.8 H527.2 V76.8" fill="none" stroke="#000" stroke-width="1.6" stroke-linejoin="round"/>
<path d="M602.5,77.3 V72.0 H643.3 V77.3" fill="none" stroke="#000" stroke-width="1.6" stroke-linejoin="round"/>
<path d="M482.30,75.30 C481.78,75.45 479.82,75.45 479.20,76.20 C478.58,76.95 478.83,78.38 478.60,79.80 C478.37,81.22 478.10,83.07 477.80,84.70 C477.50,86.33 477.25,87.95 476.80,89.60 C476.35,91.25 475.95,92.95 475.10,94.60 C474.25,96.25 473.08,97.87 471.70,99.50 C470.32,101.13 468.35,102.77 466.80,104.40 C465.25,106.03 463.63,107.55 462.40,109.30 C461.17,111.05 459.62,113.15 459.40,114.90 C459.18,116.65 460.20,118.17 461.10,119.80 C462.00,121.43 463.60,123.07 464.80,124.70 C466.00,126.33 467.32,127.95 468.30,129.60 C469.28,131.25 469.88,132.95 470.70,134.60 C471.52,136.25 472.47,137.87 473.20,139.50 C473.93,141.13 474.40,142.77 475.10,144.40 C475.80,146.03 476.77,148.00 477.40,149.30 C478.03,150.60 478.15,151.53 478.90,152.20 C479.65,152.87 481.40,153.12 481.90,153.30 C482.42,153.12 484.17,152.87 485.00,152.20 C485.83,151.53 486.17,150.60 486.90,149.30 C487.63,148.00 488.58,146.03 489.40,144.40 C490.22,142.77 490.98,141.13 491.80,139.50 C492.62,137.87 493.48,136.25 494.30,134.60 C495.12,132.95 495.80,131.25 496.70,129.60 C497.60,127.95 498.63,126.33 499.70,124.70 C500.77,123.07 502.28,121.43 503.10,119.80 C503.92,118.17 505.00,116.65 504.60,114.90 C504.20,113.15 502.08,111.05 500.70,109.30 C499.32,107.55 497.78,106.03 496.30,104.40 C494.82,102.77 493.03,101.13 491.80,99.50 C490.57,97.87 489.60,96.25 488.90,94.60 C488.20,92.95 487.98,91.25 487.60,89.60 C487.22,87.95 486.88,86.33 486.60,84.70 C486.32,83.07 486.10,81.22 485.90,79.80 C485.70,78.38 486.00,76.95 485.40,76.20 C484.80,75.45 482.82,75.45 482.30,75.30 Z" fill="#fff" fill-opacity="0.72"/>
<g fill="#3aa83a" fill-opacity="0.56">
<circle cx="497.4" cy="123.1" r="1.30"/>
<circle cx="468.9" cy="111.4" r="1.30"/>
<circle cx="481.1" cy="131.9" r="1.30"/>
<circle cx="476.0" cy="102.6" r="1.30"/>
<circle cx="467.6" cy="120.0" r="1.30"/>
<circle cx="483.1" cy="149.3" r="1.30"/>
<circle cx="483.5" cy="114.4" r="1.30"/>
<circle cx="487.4" cy="140.7" r="1.30"/>
<circle cx="471.7" cy="114.1" r="1.30"/>
<circle cx="494.7" cy="131.7" r="1.30"/>
<circle cx="479.3" cy="131.7" r="1.30"/>
<circle cx="491.9" cy="105.4" r="1.30"/>
<circle cx="483.8" cy="105.6" r="1.30"/>
<circle cx="481.8" cy="123.2" r="1.30"/>
<circle cx="487.5" cy="96.6" r="1.30"/>
<circle cx="468.3" cy="105.6" r="1.30"/>
<circle cx="485.9" cy="114.1" r="1.30"/>
<circle cx="469.3" cy="129.0" r="1.30"/>
<circle cx="476.5" cy="122.9" r="1.30"/>
<circle cx="490.4" cy="122.9" r="1.30"/>
<circle cx="500.7" cy="114.3" r="1.30"/>
<circle cx="474.8" cy="105.3" r="1.30"/>
<circle cx="482.3" cy="120.2" r="1.30"/>
<circle cx="481.6" cy="134.8" r="1.30"/>
<circle cx="480.6" cy="102.7" r="1.30"/>
<circle cx="479.6" cy="137.8" r="1.30"/>
<circle cx="480.7" cy="105.5" r="1.30"/>
<circle cx="476.6" cy="143.6" r="1.30"/>
<circle cx="478.8" cy="87.9" r="1.30"/>
<circle cx="487.0" cy="137.7" r="1.30"/>
<circle cx="474.9" cy="114.1" r="1.30"/>
<circle cx="484.9" cy="87.9" r="1.30"/>
<circle cx="491.6" cy="131.9" r="1.30"/>
<circle cx="477.2" cy="140.5" r="1.30"/>
<circle cx="480.6" cy="114.2" r="1.30"/>
<circle cx="486.1" cy="105.6" r="1.30"/>
<circle cx="484.9" cy="111.2" r="1.30"/>
<circle cx="464.7" cy="120.2" r="1.30"/>
<circle cx="490.8" cy="102.5" r="1.30"/>
<circle cx="478.0" cy="125.9" r="1.30"/>
<circle cx="479.9" cy="96.6" r="1.30"/>
<circle cx="502.0" cy="114.3" r="1.30"/>
<circle cx="484.9" cy="102.5" r="1.30"/>
<circle cx="490.0" cy="131.8" r="1.30"/>
<circle cx="481.2" cy="90.9" r="1.30"/>
<circle cx="483.1" cy="123.0" r="1.30"/>
<circle cx="479.5" cy="140.6" r="1.30"/>
<circle cx="478.5" cy="96.6" r="1.30"/>
<circle cx="471.4" cy="131.9" r="1.30"/>
<circle cx="478.6" cy="143.4" r="1.30"/>
<circle cx="499.3" cy="114.3" r="1.30"/>
<circle cx="478.4" cy="99.7" r="1.30"/>
<circle cx="479.7" cy="123.0" r="1.30"/>
<circle cx="483.9" cy="96.8" r="1.30"/>
<circle cx="493.7" cy="105.5" r="1.30"/>
<circle cx="471.1" cy="123.1" r="1.30"/>
<circle cx="495.9" cy="114.2" r="1.30"/>
<circle cx="481.6" cy="87.9" r="1.30"/>
<circle cx="479.6" cy="93.7" r="1.30"/>
<circle cx="479.1" cy="85.1" r="1.30"/>
<circle cx="501.0" cy="111.3" r="1.30"/>
<circle cx="489.8" cy="114.2" r="1.30"/>
<circle cx="482.8" cy="79.1" r="1.30"/>
<circle cx="476.5" cy="105.5" r="1.30"/>
<circle cx="493.4" cy="122.9" r="1.30"/>
<circle cx="474.2" cy="131.7" r="1.30"/>
<circle cx="486.6" cy="143.4" r="1.30"/>
<circle cx="482.2" cy="152.4" r="1.30"/>
<circle cx="482.5" cy="99.7" r="1.30"/>
<circle cx="483.2" cy="131.8" r="1.30"/>
<circle cx="469.1" cy="114.2" r="1.30"/>
<circle cx="496.5" cy="125.8" r="1.30"/>
<circle cx="476.6" cy="96.6" r="1.30"/>
<circle cx="475.0" cy="96.8" r="1.30"/>
<circle cx="490.6" cy="134.6" r="1.30"/>
<circle cx="488.7" cy="123.1" r="1.30"/>
<circle cx="475.4" cy="140.7" r="1.30"/>
<circle cx="496.0" cy="123.0" r="1.30"/>
<circle cx="473.5" cy="105.5" r="1.30"/>
<circle cx="483.6" cy="117.2" r="1.30"/>
<circle cx="464.4" cy="114.3" r="1.30"/>
<circle cx="484.0" cy="134.6" r="1.30"/>
<circle cx="487.4" cy="123.0" r="1.30"/>
<circle cx="499.6" cy="123.1" r="1.30"/>
<circle cx="480.7" cy="128.8" r="1.30"/>
<circle cx="470.3" cy="114.4" r="1.30"/>
<circle cx="469.9" cy="126.0" r="1.30"/>
<circle cx="467.4" cy="114.4" r="1.30"/>
<circle cx="486.2" cy="120.2" r="1.30"/>
<circle cx="487.9" cy="131.8" r="1.30"/>
<circle cx="484.5" cy="123.2" r="1.30"/>
<circle cx="493.4" cy="126.0" r="1.30"/>
<circle cx="477.3" cy="131.9" r="1.30"/>
<circle cx="489.7" cy="140.5" r="1.30"/>
<circle cx="481.1" cy="82.1" r="1.30"/>
<circle cx="497.5" cy="117.1" r="1.30"/>
<circle cx="483.6" cy="140.5" r="1.30"/>
<circle cx="478.5" cy="134.7" r="1.30"/>
<circle cx="493.4" cy="131.8" r="1.30"/>
<circle cx="489.3" cy="128.9" r="1.30"/>
<circle cx="482.3" cy="140.6" r="1.30"/>
<circle cx="473.5" cy="102.6" r="1.30"/>
<circle cx="488.3" cy="111.5" r="1.30"/>
<circle cx="484.9" cy="93.6" r="1.30"/>
<circle cx="478.6" cy="149.5" r="1.30"/>
<circle cx="482.3" cy="137.5" r="1.30"/>
<circle cx="481.0" cy="146.5" r="1.30"/>
<circle cx="481.8" cy="149.4" r="1.30"/>
<circle cx="481.0" cy="140.5" r="1.30"/>
<circle cx="491.5" cy="114.3" r="1.30"/>
<circle cx="482.6" cy="96.8" r="1.30"/>
<circle cx="469.6" cy="117.2" r="1.30"/>
<circle cx="497.1" cy="120.1" r="1.30"/>
<circle cx="466.6" cy="123.1" r="1.30"/>
<circle cx="491.0" cy="108.4" r="1.30"/>
<circle cx="494.2" cy="108.5" r="1.30"/>
<circle cx="461.6" cy="114.2" r="1.30"/>
<circle cx="479.3" cy="117.2" r="1.30"/>
<circle cx="485.3" cy="96.6" r="1.30"/>
<circle cx="478.3" cy="128.9" r="1.30"/>
<circle cx="476.1" cy="99.7" r="1.30"/>
</g>
<path d="M482.30,75.30 C481.78,75.45 479.82,75.45 479.20,76.20 C478.58,76.95 478.83,78.38 478.60,79.80 C478.37,81.22 478.10,83.07 477.80,84.70 C477.50,86.33 477.25,87.95 476.80,89.60 C476.35,91.25 475.95,92.95 475.10,94.60 C474.25,96.25 473.08,97.87 471.70,99.50 C470.32,101.13 468.35,102.77 466.80,104.40 C465.25,106.03 463.63,107.55 462.40,109.30 C461.17,111.05 459.62,113.15 459.40,114.90 C459.18,116.65 460.20,118.17 461.10,119.80 C462.00,121.43 463.60,123.07 464.80,124.70 C466.00,126.33 467.32,127.95 468.30,129.60 C469.28,131.25 469.88,132.95 470.70,134.60 C471.52,136.25 472.47,137.87 473.20,139.50 C473.93,141.13 474.40,142.77 475.10,144.40 C475.80,146.03 476.77,148.00 477.40,149.30 C478.03,150.60 478.15,151.53 478.90,152.20 C479.65,152.87 481.40,153.12 481.90,153.30 C482.42,153.12 484.17,152.87 485.00,152.20 C485.83,151.53 486.17,150.60 486.90,149.30 C487.63,148.00 488.58,146.03 489.40,144.40 C490.22,142.77 490.98,141.13 491.80,139.50 C492.62,137.87 493.48,136.25 494.30,134.60 C495.12,132.95 495.80,131.25 496.70,129.60 C497.60,127.95 498.63,126.33 499.70,124.70 C500.77,123.07 502.28,121.43 503.10,119.80 C503.92,118.17 505.00,116.65 504.60,114.90 C504.20,113.15 502.08,111.05 500.70,109.30 C499.32,107.55 497.78,106.03 496.30,104.40 C494.82,102.77 493.03,101.13 491.80,99.50 C490.57,97.87 489.60,96.25 488.90,94.60 C488.20,92.95 487.98,91.25 487.60,89.60 C487.22,87.95 486.88,86.33 486.60,84.70 C486.32,83.07 486.10,81.22 485.90,79.80 C485.70,78.38 486.00,76.95 485.40,76.20 C484.80,75.45 482.82,75.45 482.30,75.30 Z" fill="none" stroke="#239a23" stroke-width="1.15" stroke-linejoin="round"/>
<path d="M477.3,114.4 H486.7 M477.3,120.6 H486.7 M482.0,114.4 V120.6" stroke="#0a8a0a" stroke-width="1.9" fill="none"/>
<path d="M531.70,40.10 C531.62,41.62 531.40,45.32 531.20,49.20 C531.00,53.08 530.73,59.15 530.50,63.40 C530.27,67.65 530.08,71.63 529.80,74.70 C529.52,77.77 529.38,79.43 528.80,81.80 C528.22,84.17 527.10,86.70 526.30,88.90 C525.50,91.10 524.95,92.80 524.00,95.00 C523.05,97.20 522.00,99.73 520.60,102.10 C519.20,104.47 517.13,106.83 515.60,109.20 C514.07,111.57 512.30,114.08 511.40,116.30 C510.50,118.52 509.85,120.13 510.20,122.50 C510.55,124.87 512.00,127.98 513.50,130.50 C515.00,133.02 517.30,135.25 519.20,137.60 C521.10,139.95 523.37,142.25 524.90,144.60 C526.43,146.95 527.22,149.45 528.40,151.70 C529.58,153.95 531.40,157.03 532.00,158.10 C532.65,157.03 534.60,153.95 535.90,151.70 C537.20,149.45 538.10,146.95 539.80,144.60 C541.50,142.25 544.10,139.95 546.10,137.60 C548.10,135.25 550.37,133.02 551.80,130.50 C553.23,127.98 554.58,124.87 554.70,122.50 C554.82,120.13 553.50,118.52 552.50,116.30 C551.50,114.08 550.12,111.57 548.70,109.20 C547.28,106.83 545.45,104.47 544.00,102.10 C542.55,99.73 541.02,97.20 540.00,95.00 C538.98,92.80 538.65,91.10 537.90,88.90 C537.15,86.70 536.13,84.17 535.50,81.80 C534.87,79.43 534.50,77.77 534.10,74.70 C533.70,71.63 533.33,67.65 533.10,63.40 C532.87,59.15 532.93,53.08 532.70,49.20 C532.47,45.32 531.87,41.62 531.70,40.10 Z" fill="#fff" fill-opacity="0.72"/>
<g fill="#f04848" fill-opacity="0.56">
<circle cx="514.5" cy="123.1" r="1.30"/>
<circle cx="531.9" cy="44.2" r="1.30"/>
<circle cx="543.4" cy="122.9" r="1.30"/>
<circle cx="532.3" cy="96.8" r="1.30"/>
<circle cx="526.7" cy="102.5" r="1.30"/>
<circle cx="532.4" cy="70.4" r="1.30"/>
<circle cx="532.6" cy="81.9" r="1.30"/>
<circle cx="540.9" cy="122.9" r="1.30"/>
<circle cx="533.8" cy="102.7" r="1.30"/>
<circle cx="511.6" cy="123.0" r="1.30"/>
<circle cx="546.5" cy="122.9" r="1.30"/>
<circle cx="553.4" cy="123.1" r="1.30"/>
<circle cx="522.2" cy="105.5" r="1.30"/>
<circle cx="549.9" cy="114.1" r="1.30"/>
<circle cx="526.7" cy="140.7" r="1.30"/>
<circle cx="534.5" cy="91.0" r="1.30"/>
<circle cx="529.7" cy="99.5" r="1.30"/>
<circle cx="522.8" cy="140.6" r="1.30"/>
<circle cx="524.6" cy="123.0" r="1.30"/>
<circle cx="536.7" cy="105.5" r="1.30"/>
<circle cx="547.9" cy="114.2" r="1.30"/>
<circle cx="546.5" cy="114.2" r="1.30"/>
<circle cx="514.6" cy="120.2" r="1.30"/>
<circle cx="534.3" cy="131.7" r="1.30"/>
<circle cx="540.1" cy="140.7" r="1.30"/>
<circle cx="534.0" cy="114.1" r="1.30"/>
<circle cx="536.8" cy="114.3" r="1.30"/>
<circle cx="535.3" cy="140.5" r="1.30"/>
<circle cx="550.1" cy="120.0" r="1.30"/>
<circle cx="537.4" cy="123.1" r="1.30"/>
<circle cx="541.9" cy="140.7" r="1.30"/>
<circle cx="544.5" cy="131.8" r="1.30"/>
<circle cx="542.9" cy="137.6" r="1.30"/>
<circle cx="543.4" cy="117.3" r="1.30"/>
<circle cx="532.2" cy="58.7" r="1.30"/>
<circle cx="540.7" cy="114.2" r="1.30"/>
<circle cx="532.1" cy="140.5" r="1.30"/>
<circle cx="523.7" cy="126.1" r="1.30"/>
<circle cx="532.3" cy="131.8" r="1.30"/>
<circle cx="532.3" cy="114.4" r="1.30"/>
<circle cx="537.5" cy="140.5" r="1.30"/>
<circle cx="547.9" cy="123.2" r="1.30"/>
<circle cx="527.7" cy="123.1" r="1.30"/>
<circle cx="526.6" cy="91.0" r="1.30"/>
<circle cx="534.5" cy="120.1" r="1.30"/>
<circle cx="530.2" cy="146.3" r="1.30"/>
<circle cx="520.9" cy="131.7" r="1.30"/>
<circle cx="517.9" cy="131.8" r="1.30"/>
<circle cx="530.5" cy="117.1" r="1.30"/>
<circle cx="521.0" cy="108.5" r="1.30"/>
<circle cx="518.9" cy="123.0" r="1.30"/>
<circle cx="531.5" cy="79.2" r="1.30"/>
<circle cx="528.7" cy="93.7" r="1.30"/>
<circle cx="541.6" cy="105.5" r="1.30"/>
<circle cx="544.0" cy="114.3" r="1.30"/>
<circle cx="535.4" cy="114.2" r="1.30"/>
<circle cx="533.5" cy="149.3" r="1.30"/>
<circle cx="539.2" cy="114.2" r="1.30"/>
<circle cx="525.7" cy="128.9" r="1.30"/>
<circle cx="530.8" cy="85.0" r="1.30"/>
<circle cx="538.8" cy="105.5" r="1.30"/>
<circle cx="521.3" cy="114.3" r="1.30"/>
<circle cx="539.0" cy="123.1" r="1.30"/>
<circle cx="523.1" cy="120.2" r="1.30"/>
<circle cx="538.6" cy="131.9" r="1.30"/>
<circle cx="517.3" cy="123.1" r="1.30"/>
<circle cx="530.2" cy="96.7" r="1.30"/>
<circle cx="534.6" cy="96.8" r="1.30"/>
<circle cx="528.6" cy="137.7" r="1.30"/>
<circle cx="530.1" cy="120.0" r="1.30"/>
<circle cx="527.9" cy="111.2" r="1.30"/>
<circle cx="515.8" cy="131.8" r="1.30"/>
<circle cx="543.2" cy="131.8" r="1.30"/>
<circle cx="532.6" cy="123.1" r="1.30"/>
<circle cx="526.1" cy="122.9" r="1.30"/>
<circle cx="528.6" cy="114.1" r="1.30"/>
<circle cx="527.9" cy="105.6" r="1.30"/>
<circle cx="543.8" cy="120.1" r="1.30"/>
<circle cx="536.1" cy="149.3" r="1.30"/>
<circle cx="522.3" cy="131.7" r="1.30"/>
<circle cx="538.5" cy="120.1" r="1.30"/>
<circle cx="534.1" cy="105.5" r="1.30"/>
<circle cx="539.4" cy="126.1" r="1.30"/>
<circle cx="528.1" cy="128.9" r="1.30"/>
<circle cx="533.9" cy="140.6" r="1.30"/>
<circle cx="542.1" cy="125.9" r="1.30"/>
<circle cx="523.0" cy="123.2" r="1.30"/>
<circle cx="535.2" cy="85.0" r="1.30"/>
<circle cx="526.2" cy="114.2" r="1.30"/>
<circle cx="536.9" cy="126.1" r="1.30"/>
<circle cx="530.5" cy="131.8" r="1.30"/>
<circle cx="527.6" cy="131.7" r="1.30"/>
<circle cx="517.6" cy="129.0" r="1.30"/>
<circle cx="513.0" cy="123.0" r="1.30"/>
<circle cx="536.3" cy="131.8" r="1.30"/>
<circle cx="540.4" cy="131.9" r="1.30"/>
<circle cx="532.7" cy="105.4" r="1.30"/>
<circle cx="533.5" cy="152.3" r="1.30"/>
<circle cx="531.8" cy="61.6" r="1.30"/>
<circle cx="532.8" cy="87.9" r="1.30"/>
<circle cx="544.8" cy="123.1" r="1.30"/>
<circle cx="513.0" cy="126.1" r="1.30"/>
<circle cx="532.9" cy="146.5" r="1.30"/>
<circle cx="540.4" cy="129.0" r="1.30"/>
<circle cx="525.7" cy="105.5" r="1.30"/>
<circle cx="520.6" cy="105.5" r="1.30"/>
<circle cx="530.2" cy="152.4" r="1.30"/>
<circle cx="531.4" cy="93.7" r="1.30"/>
<circle cx="528.8" cy="149.4" r="1.30"/>
<circle cx="524.8" cy="131.9" r="1.30"/>
<circle cx="538.1" cy="96.8" r="1.30"/>
<circle cx="543.7" cy="105.6" r="1.30"/>
<circle cx="533.9" cy="79.2" r="1.30"/>
<circle cx="542.1" cy="114.4" r="1.30"/>
<circle cx="516.7" cy="120.2" r="1.30"/>
<circle cx="527.5" cy="96.8" r="1.30"/>
<circle cx="547.1" cy="108.3" r="1.30"/>
<circle cx="543.8" cy="108.4" r="1.30"/>
<circle cx="529.1" cy="90.8" r="1.30"/>
<circle cx="520.5" cy="122.9" r="1.30"/>
<circle cx="547.2" cy="131.9" r="1.30"/>
<circle cx="531.7" cy="52.9" r="1.30"/>
<circle cx="532.1" cy="149.4" r="1.30"/>
<circle cx="536.7" cy="102.7" r="1.30"/>
<circle cx="533.9" cy="143.4" r="1.30"/>
<circle cx="530.9" cy="111.4" r="1.30"/>
<circle cx="528.9" cy="96.6" r="1.30"/>
<circle cx="523.0" cy="114.1" r="1.30"/>
<circle cx="535.9" cy="96.8" r="1.30"/>
<circle cx="531.1" cy="128.9" r="1.30"/>
<circle cx="531.1" cy="137.6" r="1.30"/>
<circle cx="539.7" cy="137.5" r="1.30"/>
<circle cx="524.9" cy="140.5" r="1.30"/>
<circle cx="537.1" cy="99.6" r="1.30"/>
<circle cx="513.8" cy="114.4" r="1.30"/>
<circle cx="531.4" cy="90.8" r="1.30"/>
</g>
<path d="M531.70,40.10 C531.62,41.62 531.40,45.32 531.20,49.20 C531.00,53.08 530.73,59.15 530.50,63.40 C530.27,67.65 530.08,71.63 529.80,74.70 C529.52,77.77 529.38,79.43 528.80,81.80 C528.22,84.17 527.10,86.70 526.30,88.90 C525.50,91.10 524.95,92.80 524.00,95.00 C523.05,97.20 522.00,99.73 520.60,102.10 C519.20,104.47 517.13,106.83 515.60,109.20 C514.07,111.57 512.30,114.08 511.40,116.30 C510.50,118.52 509.85,120.13 510.20,122.50 C510.55,124.87 512.00,127.98 513.50,130.50 C515.00,133.02 517.30,135.25 519.20,137.60 C521.10,139.95 523.37,142.25 524.90,144.60 C526.43,146.95 527.22,149.45 528.40,151.70 C529.58,153.95 531.40,157.03 532.00,158.10 C532.65,157.03 534.60,153.95 535.90,151.70 C537.20,149.45 538.10,146.95 539.80,144.60 C541.50,142.25 544.10,139.95 546.10,137.60 C548.10,135.25 550.37,133.02 551.80,130.50 C553.23,127.98 554.58,124.87 554.70,122.50 C554.82,120.13 553.50,118.52 552.50,116.30 C551.50,114.08 550.12,111.57 548.70,109.20 C547.28,106.83 545.45,104.47 544.00,102.10 C542.55,99.73 541.02,97.20 540.00,95.00 C538.98,92.80 538.65,91.10 537.90,88.90 C537.15,86.70 536.13,84.17 535.50,81.80 C534.87,79.43 534.50,77.77 534.10,74.70 C533.70,71.63 533.33,67.65 533.10,63.40 C532.87,59.15 532.93,53.08 532.70,49.20 C532.47,45.32 531.87,41.62 531.70,40.10 Z" fill="none" stroke="#f02a2a" stroke-width="1.15" stroke-linejoin="round"/>
<path d="M527.1,114.9 H536.5 M527.1,121.2 H536.5 M531.8,114.9 V121.2" stroke="#e81c1c" stroke-width="1.9" fill="none"/>
<path d="M597.60,78.30 C597.17,78.45 595.50,78.30 595.00,79.20 C594.50,80.10 594.80,82.03 594.60,83.70 C594.40,85.37 594.35,87.55 593.80,89.20 C593.25,90.85 592.45,91.97 591.30,93.60 C590.15,95.23 588.35,97.18 586.90,99.00 C585.45,100.82 583.87,102.68 582.60,104.50 C581.33,106.32 580.23,108.08 579.30,109.90 C578.37,111.72 577.55,113.60 577.00,115.40 C576.45,117.20 576.07,118.95 576.00,120.70 C575.93,122.45 576.23,124.12 576.60,125.90 C576.97,127.68 577.38,129.58 578.20,131.40 C579.02,133.22 580.13,134.98 581.50,136.80 C582.87,138.62 584.77,140.47 586.40,142.30 C588.03,144.13 590.03,145.98 591.30,147.80 C592.57,149.62 593.40,151.38 594.00,153.20 C594.60,155.02 594.63,157.30 594.90,158.70 C595.17,160.10 595.08,160.88 595.60,161.60 C596.12,162.32 597.60,162.77 598.00,163.00 C598.38,162.77 599.83,162.32 600.30,161.60 C600.77,160.88 600.57,160.10 600.80,158.70 C601.03,157.30 601.10,155.02 601.70,153.20 C602.30,151.38 603.13,149.62 604.40,147.80 C605.67,145.98 607.67,144.13 609.30,142.30 C610.93,140.47 612.83,138.62 614.20,136.80 C615.57,134.98 616.68,133.22 617.50,131.40 C618.32,129.58 618.77,127.68 619.10,125.90 C619.43,124.12 619.63,122.45 619.50,120.70 C619.37,118.95 618.90,117.20 618.30,115.40 C617.70,113.60 616.85,111.72 615.90,109.90 C614.95,108.08 613.88,106.32 612.60,104.50 C611.32,102.68 609.67,100.82 608.20,99.00 C606.73,97.18 604.93,95.23 603.80,93.60 C602.67,91.97 601.93,90.85 601.40,89.20 C600.87,87.55 600.80,85.37 600.60,83.70 C600.40,82.03 600.70,80.10 600.20,79.20 C599.70,78.30 598.03,78.45 597.60,78.30 Z" fill="#fff" fill-opacity="0.72"/>
<g fill="#3aa83a" fill-opacity="0.56">
<circle cx="611.7" cy="105.3" r="1.30"/>
<circle cx="603.3" cy="114.2" r="1.30"/>
<circle cx="584.2" cy="126.0" r="1.30"/>
<circle cx="583.8" cy="117.1" r="1.30"/>
<circle cx="604.2" cy="134.8" r="1.30"/>
<circle cx="597.5" cy="79.2" r="1.30"/>
<circle cx="593.3" cy="96.8" r="1.30"/>
<circle cx="599.9" cy="155.2" r="1.30"/>
<circle cx="604.6" cy="96.6" r="1.30"/>
<circle cx="602.7" cy="108.5" r="1.30"/>
<circle cx="612.9" cy="108.3" r="1.30"/>
<circle cx="599.0" cy="91.0" r="1.30"/>
<circle cx="599.2" cy="108.5" r="1.30"/>
<circle cx="607.8" cy="140.6" r="1.30"/>
<circle cx="591.0" cy="117.2" r="1.30"/>
<circle cx="593.2" cy="105.6" r="1.30"/>
<circle cx="597.8" cy="149.3" r="1.30"/>
<circle cx="599.1" cy="88.0" r="1.30"/>
<circle cx="594.6" cy="111.4" r="1.30"/>
<circle cx="596.3" cy="108.3" r="1.30"/>
<circle cx="590.7" cy="108.4" r="1.30"/>
<circle cx="593.7" cy="149.5" r="1.30"/>
<circle cx="590.2" cy="123.0" r="1.30"/>
<circle cx="598.9" cy="158.0" r="1.30"/>
<circle cx="597.8" cy="105.4" r="1.30"/>
<circle cx="587.7" cy="137.6" r="1.30"/>
<circle cx="585.5" cy="105.6" r="1.30"/>
<circle cx="593.1" cy="146.5" r="1.30"/>
<circle cx="602.9" cy="140.5" r="1.30"/>
<circle cx="603.7" cy="131.7" r="1.30"/>
<circle cx="615.1" cy="117.3" r="1.30"/>
<circle cx="597.1" cy="131.8" r="1.30"/>
<circle cx="597.3" cy="161.0" r="1.30"/>
<circle cx="588.6" cy="105.5" r="1.30"/>
<circle cx="591.9" cy="131.7" r="1.30"/>
<circle cx="605.6" cy="111.5" r="1.30"/>
<circle cx="590.4" cy="114.1" r="1.30"/>
<circle cx="595.0" cy="131.9" r="1.30"/>
<circle cx="594.6" cy="105.6" r="1.30"/>
<circle cx="608.1" cy="114.2" r="1.30"/>
<circle cx="599.8" cy="105.5" r="1.30"/>
<circle cx="611.4" cy="131.7" r="1.30"/>
<circle cx="610.1" cy="123.0" r="1.30"/>
<circle cx="609.2" cy="131.8" r="1.30"/>
<circle cx="604.3" cy="125.9" r="1.30"/>
<circle cx="606.3" cy="114.2" r="1.30"/>
<circle cx="596.2" cy="96.6" r="1.30"/>
<circle cx="612.5" cy="117.2" r="1.30"/>
<circle cx="608.1" cy="123.0" r="1.30"/>
<circle cx="588.9" cy="140.7" r="1.30"/>
<circle cx="587.1" cy="102.5" r="1.30"/>
<circle cx="596.2" cy="122.9" r="1.30"/>
<circle cx="597.0" cy="85.0" r="1.30"/>
<circle cx="614.4" cy="114.3" r="1.30"/>
<circle cx="610.9" cy="114.3" r="1.30"/>
<circle cx="579.9" cy="114.1" r="1.30"/>
<circle cx="600.6" cy="131.8" r="1.30"/>
<circle cx="608.7" cy="105.3" r="1.30"/>
<circle cx="602.7" cy="143.4" r="1.30"/>
<circle cx="596.9" cy="117.3" r="1.30"/>
<circle cx="613.9" cy="123.2" r="1.30"/>
<circle cx="594.1" cy="123.1" r="1.30"/>
<circle cx="599.1" cy="149.3" r="1.30"/>
<circle cx="587.4" cy="131.8" r="1.30"/>
<circle cx="607.1" cy="117.2" r="1.30"/>
<circle cx="595.0" cy="149.3" r="1.30"/>
<circle cx="578.3" cy="123.1" r="1.30"/>
<circle cx="580.1" cy="125.9" r="1.30"/>
<circle cx="592.2" cy="140.6" r="1.30"/>
<circle cx="603.4" cy="123.2" r="1.30"/>
<circle cx="598.7" cy="128.9" r="1.30"/>
<circle cx="586.3" cy="140.5" r="1.30"/>
<circle cx="583.9" cy="131.7" r="1.30"/>
<circle cx="598.5" cy="120.2" r="1.30"/>
<circle cx="580.8" cy="131.8" r="1.30"/>
<circle cx="579.0" cy="117.3" r="1.30"/>
<circle cx="591.0" cy="105.5" r="1.30"/>
<circle cx="602.5" cy="96.6" r="1.30"/>
<circle cx="585.3" cy="131.8" r="1.30"/>
<circle cx="594.2" cy="134.6" r="1.30"/>
<circle cx="604.7" cy="114.1" r="1.30"/>
<circle cx="590.5" cy="102.5" r="1.30"/>
<circle cx="611.8" cy="111.2" r="1.30"/>
<circle cx="605.3" cy="122.9" r="1.30"/>
<circle cx="600.6" cy="93.6" r="1.30"/>
<circle cx="601.8" cy="111.4" r="1.30"/>
<circle cx="615.0" cy="125.9" r="1.30"/>
<circle cx="605.1" cy="131.7" r="1.30"/>
<circle cx="602.1" cy="131.7" r="1.30"/>
<circle cx="581.1" cy="117.3" r="1.30"/>
<circle cx="596.7" cy="158.2" r="1.30"/>
<circle cx="604.3" cy="105.5" r="1.30"/>
<circle cx="592.6" cy="123.0" r="1.30"/>
<circle cx="604.4" cy="140.6" r="1.30"/>
<circle cx="583.8" cy="108.5" r="1.30"/>
<circle cx="586.7" cy="114.2" r="1.30"/>
<circle cx="612.7" cy="114.2" r="1.30"/>
<circle cx="602.1" cy="122.9" r="1.30"/>
<circle cx="595.4" cy="102.6" r="1.30"/>
<circle cx="600.6" cy="149.5" r="1.30"/>
<circle cx="606.2" cy="140.6" r="1.30"/>
<circle cx="592.0" cy="96.7" r="1.30"/>
<circle cx="586.0" cy="117.0" r="1.30"/>
<circle cx="598.1" cy="102.7" r="1.30"/>
<circle cx="617.2" cy="120.0" r="1.30"/>
<circle cx="593.2" cy="131.7" r="1.30"/>
<circle cx="588.1" cy="117.2" r="1.30"/>
<circle cx="581.5" cy="123.0" r="1.30"/>
<circle cx="606.8" cy="131.7" r="1.30"/>
<circle cx="612.5" cy="134.9" r="1.30"/>
<circle cx="589.2" cy="120.2" r="1.30"/>
<circle cx="582.0" cy="131.7" r="1.30"/>
<circle cx="613.0" cy="131.9" r="1.30"/>
<circle cx="585.7" cy="123.1" r="1.30"/>
<circle cx="601.2" cy="140.5" r="1.30"/>
<circle cx="587.4" cy="108.4" r="1.30"/>
<circle cx="611.5" cy="123.0" r="1.30"/>
<circle cx="595.1" cy="137.8" r="1.30"/>
<circle cx="579.2" cy="120.2" r="1.30"/>
<circle cx="586.8" cy="105.4" r="1.30"/>
<circle cx="610.5" cy="126.0" r="1.30"/>
<circle cx="604.3" cy="120.1" r="1.30"/>
<circle cx="600.3" cy="123.0" r="1.30"/>
<circle cx="594.0" cy="140.5" r="1.30"/>
<circle cx="590.6" cy="131.8" r="1.30"/>
<circle cx="599.1" cy="131.9" r="1.30"/>
<circle cx="599.5" cy="140.6" r="1.30"/>
<circle cx="614.4" cy="111.4" r="1.30"/>
<circle cx="600.8" cy="152.3" r="1.30"/>
<circle cx="583.7" cy="134.8" r="1.30"/>
<circle cx="598.7" cy="111.4" r="1.30"/>
<circle cx="601.7" cy="125.9" r="1.30"/>
<circle cx="612.9" cy="125.9" r="1.30"/>
<circle cx="608.1" cy="120.2" r="1.30"/>
<circle cx="595.4" cy="155.1" r="1.30"/>
<circle cx="614.7" cy="120.2" r="1.30"/>
<circle cx="598.3" cy="96.8" r="1.30"/>
</g>
<path d="M597.60,78.30 C597.17,78.45 595.50,78.30 595.00,79.20 C594.50,80.10 594.80,82.03 594.60,83.70 C594.40,85.37 594.35,87.55 593.80,89.20 C593.25,90.85 592.45,91.97 591.30,93.60 C590.15,95.23 588.35,97.18 586.90,99.00 C585.45,100.82 583.87,102.68 582.60,104.50 C581.33,106.32 580.23,108.08 579.30,109.90 C578.37,111.72 577.55,113.60 577.00,115.40 C576.45,117.20 576.07,118.95 576.00,120.70 C575.93,122.45 576.23,124.12 576.60,125.90 C576.97,127.68 577.38,129.58 578.20,131.40 C579.02,133.22 580.13,134.98 581.50,136.80 C582.87,138.62 584.77,140.47 586.40,142.30 C588.03,144.13 590.03,145.98 591.30,147.80 C592.57,149.62 593.40,151.38 594.00,153.20 C594.60,155.02 594.63,157.30 594.90,158.70 C595.17,160.10 595.08,160.88 595.60,161.60 C596.12,162.32 597.60,162.77 598.00,163.00 C598.38,162.77 599.83,162.32 600.30,161.60 C600.77,160.88 600.57,160.10 600.80,158.70 C601.03,157.30 601.10,155.02 601.70,153.20 C602.30,151.38 603.13,149.62 604.40,147.80 C605.67,145.98 607.67,144.13 609.30,142.30 C610.93,140.47 612.83,138.62 614.20,136.80 C615.57,134.98 616.68,133.22 617.50,131.40 C618.32,129.58 618.77,127.68 619.10,125.90 C619.43,124.12 619.63,122.45 619.50,120.70 C619.37,118.95 618.90,117.20 618.30,115.40 C617.70,113.60 616.85,111.72 615.90,109.90 C614.95,108.08 613.88,106.32 612.60,104.50 C611.32,102.68 609.67,100.82 608.20,99.00 C606.73,97.18 604.93,95.23 603.80,93.60 C602.67,91.97 601.93,90.85 601.40,89.20 C600.87,87.55 600.80,85.37 600.60,83.70 C600.40,82.03 600.70,80.10 600.20,79.20 C599.70,78.30 598.03,78.45 597.60,78.30 Z" fill="none" stroke="#239a23" stroke-width="1.15" stroke-linejoin="round"/>
<path d="M593.1,119.2 H602.5 M593.1,125.4 H602.5 M597.8,119.2 V125.4" stroke="#0a8a0a" stroke-width="1.9" fill="none"/>
<path d="M648.20,74.00 C647.95,75.15 647.22,78.83 646.70,80.90 C646.18,82.97 645.73,84.58 645.10,86.40 C644.47,88.22 643.90,89.98 642.90,91.80 C641.90,93.62 640.82,95.47 639.10,97.30 C637.38,99.13 634.52,100.98 632.60,102.80 C630.68,104.62 628.78,106.38 627.60,108.20 C626.42,110.02 625.83,112.15 625.50,113.70 C625.17,115.25 625.22,116.28 625.60,117.50 C625.98,118.72 626.93,119.42 627.80,121.00 C628.67,122.58 630.10,125.00 630.80,127.00 C631.50,129.00 631.60,131.00 632.00,133.00 C632.40,135.00 632.60,137.00 633.20,139.00 C633.80,141.00 634.50,143.00 635.60,145.00 C636.70,147.00 638.40,149.00 639.80,151.00 C641.20,153.00 642.93,155.20 644.00,157.00 C645.07,158.80 645.60,160.30 646.20,161.80 C646.80,163.30 647.37,165.30 647.60,166.00 C647.90,165.30 648.70,163.30 649.40,161.80 C650.10,160.30 650.70,158.80 651.80,157.00 C652.90,155.20 654.70,153.00 656.00,151.00 C657.30,149.00 658.60,147.00 659.60,145.00 C660.60,143.00 661.30,141.00 662.00,139.00 C662.70,137.00 663.20,135.00 663.80,133.00 C664.40,131.00 664.80,129.00 665.60,127.00 C666.40,125.00 667.83,122.58 668.60,121.00 C669.37,119.42 669.97,118.72 670.20,117.50 C670.43,116.28 670.45,115.25 670.00,113.70 C669.55,112.15 668.73,110.02 667.50,108.20 C666.27,106.38 664.42,104.62 662.60,102.80 C660.78,100.98 658.23,99.13 656.60,97.30 C654.97,95.47 653.72,93.62 652.80,91.80 C651.88,89.98 651.65,88.22 651.10,86.40 C650.55,84.58 649.98,82.97 649.50,80.90 C649.02,78.83 648.42,75.15 648.20,74.00 Z" fill="#fff" fill-opacity="0.72"/>
<g fill="#f04848" fill-opacity="0.56">
<circle cx="646.0" cy="96.7" r="1.30"/>
<circle cx="643.5" cy="114.4" r="1.30"/>
<circle cx="638.7" cy="123.1" r="1.30"/>
<circle cx="642.5" cy="143.6" r="1.30"/>
<circle cx="648.1" cy="123.1" r="1.30"/>
<circle cx="665.0" cy="120.1" r="1.30"/>
<circle cx="645.7" cy="87.9" r="1.30"/>
<circle cx="655.7" cy="123.0" r="1.30"/>
<circle cx="647.8" cy="120.0" r="1.30"/>
<circle cx="656.1" cy="146.5" r="1.30"/>
<circle cx="652.3" cy="149.4" r="1.30"/>
<circle cx="640.1" cy="102.5" r="1.30"/>
<circle cx="641.1" cy="123.1" r="1.30"/>
<circle cx="638.6" cy="146.3" r="1.30"/>
<circle cx="655.4" cy="114.2" r="1.30"/>
<circle cx="642.1" cy="114.3" r="1.30"/>
<circle cx="653.9" cy="149.3" r="1.30"/>
<circle cx="662.6" cy="108.5" r="1.30"/>
<circle cx="654.4" cy="102.7" r="1.30"/>
<circle cx="658.3" cy="114.3" r="1.30"/>
<circle cx="645.8" cy="114.3" r="1.30"/>
<circle cx="630.3" cy="114.4" r="1.30"/>
<circle cx="655.2" cy="120.1" r="1.30"/>
<circle cx="635.0" cy="102.4" r="1.30"/>
<circle cx="648.1" cy="149.2" r="1.30"/>
<circle cx="661.0" cy="102.4" r="1.30"/>
<circle cx="646.2" cy="149.3" r="1.30"/>
<circle cx="632.9" cy="131.7" r="1.30"/>
<circle cx="640.6" cy="114.4" r="1.30"/>
<circle cx="639.6" cy="140.4" r="1.30"/>
<circle cx="655.8" cy="105.4" r="1.30"/>
<circle cx="657.5" cy="111.3" r="1.30"/>
<circle cx="636.6" cy="114.1" r="1.30"/>
<circle cx="651.6" cy="155.3" r="1.30"/>
<circle cx="650.3" cy="122.9" r="1.30"/>
<circle cx="658.1" cy="120.0" r="1.30"/>
<circle cx="665.8" cy="114.2" r="1.30"/>
<circle cx="641.7" cy="137.8" r="1.30"/>
<circle cx="639.8" cy="120.2" r="1.30"/>
<circle cx="649.6" cy="152.3" r="1.30"/>
<circle cx="658.2" cy="137.7" r="1.30"/>
<circle cx="645.4" cy="123.0" r="1.30"/>
<circle cx="655.6" cy="131.8" r="1.30"/>
<circle cx="650.1" cy="87.8" r="1.30"/>
<circle cx="644.2" cy="146.4" r="1.30"/>
<circle cx="637.8" cy="131.8" r="1.30"/>
<circle cx="646.4" cy="143.6" r="1.30"/>
<circle cx="649.9" cy="146.3" r="1.30"/>
<circle cx="646.6" cy="105.4" r="1.30"/>
<circle cx="644.0" cy="149.4" r="1.30"/>
<circle cx="653.7" cy="131.9" r="1.30"/>
<circle cx="643.3" cy="105.4" r="1.30"/>
<circle cx="653.6" cy="105.5" r="1.30"/>
<circle cx="641.1" cy="149.4" r="1.30"/>
<circle cx="640.3" cy="105.5" r="1.30"/>
<circle cx="648.5" cy="158.0" r="1.30"/>
<circle cx="646.6" cy="131.9" r="1.30"/>
<circle cx="656.1" cy="99.7" r="1.30"/>
<circle cx="649.9" cy="137.6" r="1.30"/>
<circle cx="648.1" cy="90.8" r="1.30"/>
<circle cx="649.3" cy="131.7" r="1.30"/>
<circle cx="662.7" cy="123.0" r="1.30"/>
<circle cx="646.9" cy="140.5" r="1.30"/>
<circle cx="660.1" cy="131.9" r="1.30"/>
<circle cx="633.6" cy="114.2" r="1.30"/>
<circle cx="647.8" cy="85.1" r="1.30"/>
<circle cx="650.1" cy="102.4" r="1.30"/>
<circle cx="643.1" cy="122.9" r="1.30"/>
<circle cx="659.6" cy="140.7" r="1.30"/>
<circle cx="649.7" cy="126.0" r="1.30"/>
<circle cx="651.3" cy="93.9" r="1.30"/>
<circle cx="660.4" cy="122.9" r="1.30"/>
<circle cx="658.9" cy="123.1" r="1.30"/>
<circle cx="664.8" cy="123.0" r="1.30"/>
<circle cx="643.8" cy="140.5" r="1.30"/>
<circle cx="653.6" cy="111.2" r="1.30"/>
<circle cx="654.9" cy="108.4" r="1.30"/>
<circle cx="654.7" cy="96.8" r="1.30"/>
<circle cx="651.9" cy="152.2" r="1.30"/>
<circle cx="656.9" cy="143.5" r="1.30"/>
<circle cx="634.3" cy="131.9" r="1.30"/>
<circle cx="650.7" cy="149.3" r="1.30"/>
<circle cx="642.4" cy="149.3" r="1.30"/>
<circle cx="638.7" cy="114.2" r="1.30"/>
<circle cx="646.9" cy="161.0" r="1.30"/>
<circle cx="643.3" cy="102.6" r="1.30"/>
<circle cx="663.9" cy="105.4" r="1.30"/>
<circle cx="661.6" cy="131.9" r="1.30"/>
<circle cx="628.7" cy="120.0" r="1.30"/>
<circle cx="637.3" cy="140.6" r="1.30"/>
<circle cx="637.2" cy="143.4" r="1.30"/>
<circle cx="653.4" cy="122.9" r="1.30"/>
<circle cx="634.7" cy="123.0" r="1.30"/>
<circle cx="652.8" cy="140.7" r="1.30"/>
<circle cx="644.9" cy="90.8" r="1.30"/>
<circle cx="659.7" cy="114.3" r="1.30"/>
<circle cx="637.9" cy="99.6" r="1.30"/>
<circle cx="663.5" cy="126.0" r="1.30"/>
<circle cx="652.8" cy="99.6" r="1.30"/>
<circle cx="648.4" cy="87.8" r="1.30"/>
<circle cx="645.0" cy="137.7" r="1.30"/>
<circle cx="629.4" cy="111.3" r="1.30"/>
<circle cx="635.6" cy="137.7" r="1.30"/>
<circle cx="633.0" cy="126.1" r="1.30"/>
<circle cx="653.4" cy="114.3" r="1.30"/>
<circle cx="637.5" cy="105.5" r="1.30"/>
<circle cx="658.1" cy="102.6" r="1.30"/>
<circle cx="645.2" cy="140.6" r="1.30"/>
<circle cx="647.7" cy="102.6" r="1.30"/>
<circle cx="657.3" cy="123.0" r="1.30"/>
<circle cx="648.6" cy="82.1" r="1.30"/>
<circle cx="642.9" cy="131.7" r="1.30"/>
<circle cx="661.3" cy="114.2" r="1.30"/>
<circle cx="642.3" cy="126.0" r="1.30"/>
<circle cx="651.3" cy="131.9" r="1.30"/>
<circle cx="647.5" cy="114.3" r="1.30"/>
<circle cx="642.2" cy="140.6" r="1.30"/>
<circle cx="664.6" cy="114.2" r="1.30"/>
<circle cx="633.2" cy="122.9" r="1.30"/>
<circle cx="658.2" cy="131.9" r="1.30"/>
<circle cx="643.3" cy="152.1" r="1.30"/>
<circle cx="641.1" cy="96.8" r="1.30"/>
<circle cx="653.1" cy="146.5" r="1.30"/>
<circle cx="636.6" cy="120.1" r="1.30"/>
<circle cx="658.8" cy="105.5" r="1.30"/>
<circle cx="649.1" cy="96.6" r="1.30"/>
<circle cx="648.0" cy="111.3" r="1.30"/>
<circle cx="631.5" cy="122.9" r="1.30"/>
<circle cx="644.7" cy="129.0" r="1.30"/>
<circle cx="636.3" cy="111.2" r="1.30"/>
<circle cx="667.5" cy="120.0" r="1.30"/>
<circle cx="664.9" cy="111.3" r="1.30"/>
<circle cx="640.3" cy="108.3" r="1.30"/>
<circle cx="646.6" cy="122.9" r="1.30"/>
<circle cx="648.7" cy="155.3" r="1.30"/>
<circle cx="656.1" cy="134.7" r="1.30"/>
<circle cx="645.6" cy="158.2" r="1.30"/>
<circle cx="649.9" cy="117.3" r="1.30"/>
<circle cx="641.8" cy="120.0" r="1.30"/>
<circle cx="650.7" cy="111.3" r="1.30"/>
<circle cx="650.8" cy="114.2" r="1.30"/>
</g>
<path d="M648.20,74.00 C647.95,75.15 647.22,78.83 646.70,80.90 C646.18,82.97 645.73,84.58 645.10,86.40 C644.47,88.22 643.90,89.98 642.90,91.80 C641.90,93.62 640.82,95.47 639.10,97.30 C637.38,99.13 634.52,100.98 632.60,102.80 C630.68,104.62 628.78,106.38 627.60,108.20 C626.42,110.02 625.83,112.15 625.50,113.70 C625.17,115.25 625.22,116.28 625.60,117.50 C625.98,118.72 626.93,119.42 627.80,121.00 C628.67,122.58 630.10,125.00 630.80,127.00 C631.50,129.00 631.60,131.00 632.00,133.00 C632.40,135.00 632.60,137.00 633.20,139.00 C633.80,141.00 634.50,143.00 635.60,145.00 C636.70,147.00 638.40,149.00 639.80,151.00 C641.20,153.00 642.93,155.20 644.00,157.00 C645.07,158.80 645.60,160.30 646.20,161.80 C646.80,163.30 647.37,165.30 647.60,166.00 C647.90,165.30 648.70,163.30 649.40,161.80 C650.10,160.30 650.70,158.80 651.80,157.00 C652.90,155.20 654.70,153.00 656.00,151.00 C657.30,149.00 658.60,147.00 659.60,145.00 C660.60,143.00 661.30,141.00 662.00,139.00 C662.70,137.00 663.20,135.00 663.80,133.00 C664.40,131.00 664.80,129.00 665.60,127.00 C666.40,125.00 667.83,122.58 668.60,121.00 C669.37,119.42 669.97,118.72 670.20,117.50 C670.43,116.28 670.45,115.25 670.00,113.70 C669.55,112.15 668.73,110.02 667.50,108.20 C666.27,106.38 664.42,104.62 662.60,102.80 C660.78,100.98 658.23,99.13 656.60,97.30 C654.97,95.47 653.72,93.62 652.80,91.80 C651.88,89.98 651.65,88.22 651.10,86.40 C650.55,84.58 649.98,82.97 649.50,80.90 C649.02,78.83 648.42,75.15 648.20,74.00 Z" fill="none" stroke="#f02a2a" stroke-width="1.15" stroke-linejoin="round"/>
<path d="M643.1,119.2 H652.5 M643.1,124.8 H652.5 M647.8,119.2 V124.8" stroke="#e81c1c" stroke-width="1.9" fill="none"/>
<text x="483.4" y="185.0" font-size="11.70" fill="#8a8a8a" text-anchor="middle" >Positive</text>
<text x="531.9" y="185.0" font-size="11.70" fill="#8a8a8a" text-anchor="middle" >Negative</text>
<text x="599.4" y="185.0" font-size="11.70" fill="#8a8a8a" text-anchor="middle" >Positive</text>
<text x="647.6" y="185.0" font-size="11.70" fill="#8a8a8a" text-anchor="middle" >Negative</text>
<text x="565.5" y="208.2" font-size="14.50" fill="#444444" text-anchor="middle" >Feedback</text>
<text x="0.0" y="262.8" font-size="20.00" fill="#000" text-anchor="start" >c</text>
<g transform="translate(39.2,351.2) rotate(-90)">
<text x="0" y="0.0" font-size="15.70" fill="#444444" text-anchor="middle">Local confidence</text>
<text x="0" y="16.0" font-size="15.70" fill="#444444" text-anchor="middle">(baseline–corrected)</text>
</g>
<text x="97.3" y="311.5" font-size="11.40" fill="#8a8a8a" text-anchor="end" >0.25</text>
<text x="97.3" y="346.5" font-size="11.40" fill="#8a8a8a" text-anchor="end" >0.00</text>
<text x="97.3" y="382.2" font-size="11.40" fill="#8a8a8a" text-anchor="end" >−0.25</text>
<text x="97.3" y="417.5" font-size="11.40" fill="#8a8a8a" text-anchor="end" >−0.50</text>
<path d="M103.6,341.5 H206.8 M213.1,341.5 H317" stroke="#555" stroke-width="1.2"/>
<text x="161.0" y="271.3" font-size="11.70" fill="#1a1a1a" text-anchor="middle" >Perception</text>
<text x="265.6" y="271.3" font-size="11.70" fill="#1a1a1a" text-anchor="middle" >Memory</text>
<text x="155.6" y="292.0" font-size="11.70" fill="#000" text-anchor="middle" >p = .205</text>
<text x="268.4" y="292.0" font-size="11.70" fill="#000" text-anchor="middle" >p = .477</text>
<path d="M136.0,302.2 V297.7 H174.0 V302.2" fill="none" stroke="#000" stroke-width="1.6" stroke-linejoin="round"/>
<path d="M245.6,302.2 V297.7 H284.0 V302.2" fill="none" stroke="#000" stroke-width="1.6" stroke-linejoin="round"/>
<path d="M131.40,310.40 C131.08,310.57 129.87,310.40 129.50,311.40 C129.13,312.40 129.37,314.67 129.20,316.40 C129.03,318.13 129.08,320.35 128.50,321.80 C127.92,323.25 126.88,324.00 125.70,325.10 C124.52,326.20 123.03,327.12 121.40,328.40 C119.77,329.68 117.45,331.35 115.90,332.80 C114.35,334.25 113.05,335.65 112.10,337.10 C111.15,338.55 110.28,340.03 110.20,341.50 C110.12,342.97 110.88,344.73 111.60,345.90 C112.32,347.07 113.18,347.57 114.50,348.50 C115.82,349.43 118.15,350.37 119.50,351.50 C120.85,352.63 121.65,353.90 122.60,355.30 C123.55,356.70 124.43,358.37 125.20,359.90 C125.97,361.43 126.62,362.72 127.20,364.50 C127.78,366.28 128.27,368.32 128.70,370.60 C129.13,372.88 129.55,375.15 129.80,378.20 C130.05,381.25 130.05,385.58 130.20,388.90 C130.35,392.22 130.48,395.30 130.70,398.10 C130.92,400.90 131.37,404.43 131.50,405.70 C131.62,404.43 132.03,400.90 132.20,398.10 C132.37,395.30 132.32,392.22 132.50,388.90 C132.68,385.58 132.98,381.25 133.30,378.20 C133.62,375.15 134.02,372.88 134.40,370.60 C134.78,368.32 135.02,366.28 135.60,364.50 C136.18,362.72 137.08,361.43 137.90,359.90 C138.72,358.37 139.48,356.70 140.50,355.30 C141.52,353.90 142.50,352.63 144.00,351.50 C145.50,350.37 148.18,349.43 149.50,348.50 C150.82,347.57 151.32,347.07 151.90,345.90 C152.48,344.73 153.08,342.97 153.00,341.50 C152.92,340.03 152.30,338.55 151.40,337.10 C150.50,335.65 149.15,334.25 147.60,332.80 C146.05,331.35 143.73,329.68 142.10,328.40 C140.47,327.12 138.98,326.20 137.80,325.10 C136.62,324.00 135.58,323.25 135.00,321.80 C134.42,320.35 134.58,318.13 134.30,316.40 C134.02,314.67 133.78,312.40 133.30,311.40 C132.82,310.40 131.72,310.57 131.40,310.40 Z" fill="#fff" fill-opacity="0.72"/>
<g fill="#3aa83a" fill-opacity="0.48">
<circle cx="126.2" cy="354.5" r="1.30"/>
<circle cx="131.7" cy="311.0" r="1.30"/>
<circle cx="142.1" cy="347.0" r="1.30"/>
<circle cx="119.2" cy="335.8" r="1.30"/>
<circle cx="144.8" cy="337.2" r="1.30"/>
<circle cx="131.2" cy="346.5" r="1.30"/>
<circle cx="133.3" cy="318.4" r="1.30"/>
<circle cx="127.2" cy="350.4" r="1.30"/>
<circle cx="136.4" cy="333.0" r="1.30"/>
<circle cx="147.2" cy="343.5" r="1.30"/>
<circle cx="129.5" cy="366.1" r="1.30"/>
<circle cx="124.1" cy="352.7" r="1.30"/>
<circle cx="131.5" cy="387.4" r="1.30"/>
<circle cx="126.2" cy="348.6" r="1.30"/>
<circle cx="126.8" cy="330.3" r="1.30"/>
<circle cx="116.2" cy="344.2" r="1.30"/>
<circle cx="140.3" cy="353.4" r="1.30"/>
<circle cx="131.4" cy="394.3" r="1.30"/>
<circle cx="134.1" cy="353.9" r="1.30"/>
<circle cx="117.6" cy="347.4" r="1.30"/>
<circle cx="133.2" cy="360.3" r="1.30"/>
<circle cx="141.2" cy="339.0" r="1.30"/>
<circle cx="137.5" cy="357.1" r="1.30"/>
<circle cx="147.8" cy="346.0" r="1.30"/>
<circle cx="145.4" cy="332.4" r="1.30"/>
<circle cx="143.7" cy="342.2" r="1.30"/>
<circle cx="137.4" cy="345.6" r="1.30"/>
<circle cx="121.2" cy="332.9" r="1.30"/>
<circle cx="146.7" cy="334.3" r="1.30"/>
<circle cx="120.8" cy="340.7" r="1.30"/>
<circle cx="131.2" cy="368.0" r="1.30"/>
<circle cx="130.0" cy="336.7" r="1.30"/>
<circle cx="124.1" cy="348.7" r="1.30"/>
<circle cx="133.5" cy="326.7" r="1.30"/>
<circle cx="140.7" cy="328.4" r="1.30"/>
<circle cx="136.2" cy="353.0" r="1.30"/>
<circle cx="145.9" cy="341.2" r="1.30"/>
<circle cx="121.8" cy="344.6" r="1.30"/>
<circle cx="126.7" cy="340.9" r="1.30"/>
<circle cx="136.4" cy="327.8" r="1.30"/>
<circle cx="116.4" cy="336.4" r="1.30"/>
<circle cx="124.4" cy="332.5" r="1.30"/>
<circle cx="133.5" cy="367.7" r="1.30"/>
<circle cx="132.6" cy="374.0" r="1.30"/>
<circle cx="132.8" cy="316.0" r="1.30"/>
<circle cx="129.8" cy="340.2" r="1.30"/>
<circle cx="130.6" cy="370.9" r="1.30"/>
<circle cx="130.7" cy="317.5" r="1.30"/>
<circle cx="129.1" cy="359.1" r="1.30"/>
<circle cx="140.1" cy="341.4" r="1.30"/>
<circle cx="144.2" cy="334.8" r="1.30"/>
<circle cx="126.1" cy="334.3" r="1.30"/>
<circle cx="140.5" cy="331.6" r="1.30"/>
<circle cx="133.2" cy="357.4" r="1.30"/>
<circle cx="140.8" cy="349.3" r="1.30"/>
<circle cx="129.4" cy="331.4" r="1.30"/>
<circle cx="122.2" cy="350.0" r="1.30"/>
<circle cx="143.8" cy="344.6" r="1.30"/>
<circle cx="113.3" cy="343.6" r="1.30"/>
<circle cx="130.3" cy="353.1" r="1.30"/>
<circle cx="142.0" cy="350.9" r="1.30"/>
<circle cx="136.9" cy="342.3" r="1.30"/>
<circle cx="133.9" cy="344.4" r="1.30"/>
<circle cx="151.0" cy="342.9" r="1.30"/>
<circle cx="126.9" cy="344.1" r="1.30"/>
<circle cx="128.4" cy="338.0" r="1.30"/>
<circle cx="118.7" cy="342.6" r="1.30"/>
<circle cx="131.6" cy="402.2" r="1.30"/>
<circle cx="147.2" cy="337.1" r="1.30"/>
<circle cx="131.6" cy="384.1" r="1.30"/>
<circle cx="133.0" cy="336.3" r="1.30"/>
<circle cx="129.6" cy="342.3" r="1.30"/>
<circle cx="138.1" cy="338.8" r="1.30"/>
<circle cx="120.7" cy="346.6" r="1.30"/>
<circle cx="136.0" cy="360.2" r="1.30"/>
<circle cx="125.3" cy="342.5" r="1.30"/>
<circle cx="114.2" cy="336.5" r="1.30"/>
<circle cx="139.0" cy="348.0" r="1.30"/>
<circle cx="131.8" cy="329.0" r="1.30"/>
<circle cx="115.3" cy="341.8" r="1.30"/>
<circle cx="134.5" cy="341.0" r="1.30"/>
<circle cx="137.6" cy="350.4" r="1.30"/>
<circle cx="122.6" cy="328.4" r="1.30"/>
<circle cx="133.5" cy="322.8" r="1.30"/>
<circle cx="144.0" cy="349.9" r="1.30"/>
<circle cx="134.8" cy="334.8" r="1.30"/>
<circle cx="145.7" cy="348.7" r="1.30"/>
<circle cx="141.4" cy="336.7" r="1.30"/>
<circle cx="129.3" cy="355.2" r="1.30"/>
<circle cx="117.8" cy="334.0" r="1.30"/>
<circle cx="127.4" cy="325.6" r="1.30"/>
<circle cx="133.5" cy="365.1" r="1.30"/>
<circle cx="114.7" cy="345.5" r="1.30"/>
<circle cx="126.3" cy="336.4" r="1.30"/>
<circle cx="125.8" cy="357.3" r="1.30"/>
<circle cx="130.7" cy="344.2" r="1.30"/>
<circle cx="131.0" cy="391.0" r="1.30"/>
<circle cx="121.7" cy="352.1" r="1.30"/>
<circle cx="118.9" cy="338.9" r="1.30"/>
<circle cx="113.2" cy="339.6" r="1.30"/>
<circle cx="131.1" cy="377.1" r="1.30"/>
<circle cx="140.6" cy="333.9" r="1.30"/>
<circle cx="131.6" cy="354.7" r="1.30"/>
<circle cx="124.0" cy="354.9" r="1.30"/>
<circle cx="129.3" cy="326.3" r="1.30"/>
<circle cx="132.0" cy="351.0" r="1.30"/>
<circle cx="122.3" cy="331.1" r="1.30"/>
<circle cx="148.2" cy="340.6" r="1.30"/>
<circle cx="138.5" cy="343.9" r="1.30"/>
<circle cx="128.5" cy="363.2" r="1.30"/>
<circle cx="123.2" cy="337.9" r="1.30"/>
<circle cx="138.6" cy="328.2" r="1.30"/>
<circle cx="132.4" cy="348.5" r="1.30"/>
<circle cx="130.8" cy="320.0" r="1.30"/>
<circle cx="130.7" cy="361.1" r="1.30"/>
<circle cx="136.7" cy="330.7" r="1.30"/>
</g>
<path d="M131.40,310.40 C131.08,310.57 129.87,310.40 129.50,311.40 C129.13,312.40 129.37,314.67 129.20,316.40 C129.03,318.13 129.08,320.35 128.50,321.80 C127.92,323.25 126.88,324.00 125.70,325.10 C124.52,326.20 123.03,327.12 121.40,328.40 C119.77,329.68 117.45,331.35 115.90,332.80 C114.35,334.25 113.05,335.65 112.10,337.10 C111.15,338.55 110.28,340.03 110.20,341.50 C110.12,342.97 110.88,344.73 111.60,345.90 C112.32,347.07 113.18,347.57 114.50,348.50 C115.82,349.43 118.15,350.37 119.50,351.50 C120.85,352.63 121.65,353.90 122.60,355.30 C123.55,356.70 124.43,358.37 125.20,359.90 C125.97,361.43 126.62,362.72 127.20,364.50 C127.78,366.28 128.27,368.32 128.70,370.60 C129.13,372.88 129.55,375.15 129.80,378.20 C130.05,381.25 130.05,385.58 130.20,388.90 C130.35,392.22 130.48,395.30 130.70,398.10 C130.92,400.90 131.37,404.43 131.50,405.70 C131.62,404.43 132.03,400.90 132.20,398.10 C132.37,395.30 132.32,392.22 132.50,388.90 C132.68,385.58 132.98,381.25 133.30,378.20 C133.62,375.15 134.02,372.88 134.40,370.60 C134.78,368.32 135.02,366.28 135.60,364.50 C136.18,362.72 137.08,361.43 137.90,359.90 C138.72,358.37 139.48,356.70 140.50,355.30 C141.52,353.90 142.50,352.63 144.00,351.50 C145.50,350.37 148.18,349.43 149.50,348.50 C150.82,347.57 151.32,347.07 151.90,345.90 C152.48,344.73 153.08,342.97 153.00,341.50 C152.92,340.03 152.30,338.55 151.40,337.10 C150.50,335.65 149.15,334.25 147.60,332.80 C146.05,331.35 143.73,329.68 142.10,328.40 C140.47,327.12 138.98,326.20 137.80,325.10 C136.62,324.00 135.58,323.25 135.00,321.80 C134.42,320.35 134.58,318.13 134.30,316.40 C134.02,314.67 133.78,312.40 133.30,311.40 C132.82,310.40 131.72,310.57 131.40,310.40 Z" fill="none" stroke="#239a23" stroke-width="1.15" stroke-linejoin="round"/>
<path d="M127.0,340.9 H136.4 M127.0,346.9 H136.4 M131.7,340.9 V346.9" stroke="#0a8a0a" stroke-width="1.9" fill="none"/>
<path d="M179.00,302.40 C178.80,303.17 178.05,305.23 177.80,307.00 C177.55,308.77 177.80,311.00 177.50,313.00 C177.20,315.00 176.95,317.00 176.00,319.00 C175.05,321.00 173.60,323.00 171.80,325.00 C170.00,327.00 167.10,329.00 165.20,331.00 C163.30,333.00 161.40,335.40 160.40,337.00 C159.40,338.60 159.12,339.47 159.20,340.60 C159.28,341.73 160.18,342.63 160.90,343.80 C161.62,344.97 162.57,346.32 163.50,347.60 C164.43,348.88 165.48,350.22 166.50,351.50 C167.52,352.78 168.58,353.90 169.60,355.30 C170.62,356.70 171.72,358.37 172.60,359.90 C173.48,361.43 174.38,362.72 174.90,364.50 C175.42,366.28 175.43,368.32 175.70,370.60 C175.97,372.88 176.25,375.65 176.50,378.20 C176.75,380.75 176.95,383.35 177.20,385.90 C177.45,388.45 177.72,389.93 178.00,393.50 C178.28,397.07 178.75,405.00 178.90,407.30 C179.08,405.00 179.72,397.07 180.00,393.50 C180.28,389.93 180.37,388.45 180.60,385.90 C180.83,383.35 181.12,380.75 181.40,378.20 C181.68,375.65 181.98,372.88 182.30,370.60 C182.62,368.32 182.75,366.28 183.30,364.50 C183.85,362.72 184.75,361.43 185.60,359.90 C186.45,358.37 187.43,356.70 188.40,355.30 C189.37,353.90 190.47,352.78 191.40,351.50 C192.33,350.22 193.13,348.88 194.00,347.60 C194.87,346.32 195.87,344.97 196.60,343.80 C197.33,342.63 198.33,341.73 198.40,340.60 C198.47,339.47 197.93,338.60 197.00,337.00 C196.07,335.40 194.50,333.00 192.80,331.00 C191.10,329.00 188.60,327.00 186.80,325.00 C185.00,323.00 183.00,321.00 182.00,319.00 C181.00,317.00 181.10,315.00 180.80,313.00 C180.50,311.00 180.50,308.77 180.20,307.00 C179.90,305.23 179.20,303.17 179.00,302.40 Z" fill="#fff" fill-opacity="0.72"/>
<g fill="#f04848" fill-opacity="0.48">
<circle cx="176.0" cy="362.3" r="1.30"/>
<circle cx="172.0" cy="357.0" r="1.30"/>
<circle cx="170.3" cy="342.4" r="1.30"/>
<circle cx="177.1" cy="373.2" r="1.30"/>
<circle cx="194.4" cy="340.8" r="1.30"/>
<circle cx="180.7" cy="335.4" r="1.30"/>
<circle cx="180.1" cy="371.4" r="1.30"/>
<circle cx="168.8" cy="345.8" r="1.30"/>
<circle cx="183.4" cy="331.2" r="1.30"/>
<circle cx="176.2" cy="338.9" r="1.30"/>
<circle cx="171.7" cy="337.2" r="1.30"/>
<circle cx="179.8" cy="327.7" r="1.30"/>
<circle cx="177.3" cy="353.7" r="1.30"/>
<circle cx="175.7" cy="344.5" r="1.30"/>
<circle cx="180.3" cy="363.8" r="1.30"/>
<circle cx="176.3" cy="350.5" r="1.30"/>
<circle cx="188.4" cy="351.0" r="1.30"/>
<circle cx="179.7" cy="375.3" r="1.30"/>
<circle cx="185.2" cy="346.8" r="1.30"/>
<circle cx="183.8" cy="340.6" r="1.30"/>
<circle cx="177.1" cy="329.1" r="1.30"/>
<circle cx="186.4" cy="332.0" r="1.30"/>
<circle cx="179.1" cy="355.5" r="1.30"/>
<circle cx="187.7" cy="338.2" r="1.30"/>
<circle cx="166.5" cy="332.0" r="1.30"/>
<circle cx="182.8" cy="344.0" r="1.30"/>
<circle cx="179.2" cy="399.0" r="1.30"/>
<circle cx="176.2" cy="322.8" r="1.30"/>
<circle cx="161.2" cy="341.9" r="1.30"/>
<circle cx="166.5" cy="340.2" r="1.30"/>
<circle cx="176.0" cy="365.1" r="1.30"/>
<circle cx="162.9" cy="343.5" r="1.30"/>
<circle cx="170.6" cy="335.0" r="1.30"/>
<circle cx="194.8" cy="338.7" r="1.30"/>
<circle cx="177.8" cy="369.2" r="1.30"/>
<circle cx="173.1" cy="325.3" r="1.30"/>
<circle cx="191.4" cy="332.7" r="1.30"/>
<circle cx="180.8" cy="346.3" r="1.30"/>
<circle cx="172.4" cy="350.6" r="1.30"/>
<circle cx="187.0" cy="353.7" r="1.30"/>
<circle cx="185.4" cy="337.9" r="1.30"/>
<circle cx="178.4" cy="318.6" r="1.30"/>
<circle cx="177.6" cy="343.2" r="1.30"/>
<circle cx="184.8" cy="356.9" r="1.30"/>
<circle cx="185.6" cy="350.4" r="1.30"/>
<circle cx="189.6" cy="342.3" r="1.30"/>
<circle cx="186.6" cy="344.3" r="1.30"/>
<circle cx="193.0" cy="342.5" r="1.30"/>
<circle cx="167.3" cy="342.7" r="1.30"/>
<circle cx="182.3" cy="337.4" r="1.30"/>
<circle cx="183.9" cy="359.5" r="1.30"/>
<circle cx="189.3" cy="334.7" r="1.30"/>
<circle cx="180.8" cy="339.2" r="1.30"/>
<circle cx="177.7" cy="378.6" r="1.30"/>
<circle cx="184.6" cy="328.1" r="1.30"/>
<circle cx="180.4" cy="369.4" r="1.30"/>
<circle cx="192.9" cy="336.8" r="1.30"/>
<circle cx="161.9" cy="337.3" r="1.30"/>
<circle cx="172.9" cy="333.1" r="1.30"/>
<circle cx="174.0" cy="328.9" r="1.30"/>
<circle cx="180.8" cy="358.6" r="1.30"/>
<circle cx="178.9" cy="307.6" r="1.30"/>
<circle cx="178.4" cy="337.5" r="1.30"/>
<circle cx="172.5" cy="331.1" r="1.30"/>
<circle cx="166.2" cy="348.2" r="1.30"/>
<circle cx="172.6" cy="342.3" r="1.30"/>
<circle cx="181.7" cy="325.9" r="1.30"/>
<circle cx="188.3" cy="330.9" r="1.30"/>
<circle cx="181.7" cy="367.1" r="1.30"/>
<circle cx="165.4" cy="336.2" r="1.30"/>
<circle cx="171.6" cy="340.3" r="1.30"/>
<circle cx="195.2" cy="343.4" r="1.30"/>
<circle cx="186.7" cy="342.2" r="1.30"/>
<circle cx="163.4" cy="340.5" r="1.30"/>
<circle cx="176.8" cy="326.9" r="1.30"/>
<circle cx="176.2" cy="347.8" r="1.30"/>
<circle cx="169.2" cy="348.0" r="1.30"/>
<circle cx="178.5" cy="395.2" r="1.30"/>
<circle cx="180.3" cy="319.2" r="1.30"/>
<circle cx="182.6" cy="328.6" r="1.30"/>
<circle cx="174.6" cy="335.6" r="1.30"/>
<circle cx="179.4" cy="384.8" r="1.30"/>
<circle cx="180.4" cy="322.2" r="1.30"/>
<circle cx="178.8" cy="348.3" r="1.30"/>
<circle cx="172.3" cy="347.1" r="1.30"/>
<circle cx="169.4" cy="352.8" r="1.30"/>
<circle cx="189.7" cy="337.4" r="1.30"/>
<circle cx="170.1" cy="350.8" r="1.30"/>
<circle cx="182.3" cy="347.8" r="1.30"/>
<circle cx="176.3" cy="336.7" r="1.30"/>
<circle cx="179.5" cy="342.3" r="1.30"/>
<circle cx="191.6" cy="334.8" r="1.30"/>
<circle cx="174.2" cy="338.9" r="1.30"/>
<circle cx="177.1" cy="357.3" r="1.30"/>
<circle cx="189.2" cy="352.9" r="1.30"/>
<circle cx="191.5" cy="349.0" r="1.30"/>
<circle cx="190.0" cy="340.0" r="1.30"/>
<circle cx="178.5" cy="362.3" r="1.30"/>
<circle cx="190.0" cy="344.5" r="1.30"/>
<circle cx="175.5" cy="324.7" r="1.30"/>
<circle cx="168.8" cy="329.2" r="1.30"/>
<circle cx="179.7" cy="382.3" r="1.30"/>
<circle cx="183.2" cy="353.5" r="1.30"/>
<circle cx="187.8" cy="340.2" r="1.30"/>
<circle cx="190.8" cy="330.5" r="1.30"/>
<circle cx="179.2" cy="390.0" r="1.30"/>
<circle cx="168.4" cy="335.2" r="1.30"/>
<circle cx="174.1" cy="354.7" r="1.30"/>
<circle cx="175.4" cy="352.7" r="1.30"/>
<circle cx="186.7" cy="329.2" r="1.30"/>
<circle cx="184.7" cy="324.8" r="1.30"/>
<circle cx="179.4" cy="314.1" r="1.30"/>
<circle cx="185.8" cy="334.1" r="1.30"/>
<circle cx="187.4" cy="335.3" r="1.30"/>
<circle cx="178.7" cy="352.0" r="1.30"/>
</g>
<path d="M179.00,302.40 C178.80,303.17 178.05,305.23 177.80,307.00 C177.55,308.77 177.80,311.00 177.50,313.00 C177.20,315.00 176.95,317.00 176.00,319.00 C175.05,321.00 173.60,323.00 171.80,325.00 C170.00,327.00 167.10,329.00 165.20,331.00 C163.30,333.00 161.40,335.40 160.40,337.00 C159.40,338.60 159.12,339.47 159.20,340.60 C159.28,341.73 160.18,342.63 160.90,343.80 C161.62,344.97 162.57,346.32 163.50,347.60 C164.43,348.88 165.48,350.22 166.50,351.50 C167.52,352.78 168.58,353.90 169.60,355.30 C170.62,356.70 171.72,358.37 172.60,359.90 C173.48,361.43 174.38,362.72 174.90,364.50 C175.42,366.28 175.43,368.32 175.70,370.60 C175.97,372.88 176.25,375.65 176.50,378.20 C176.75,380.75 176.95,383.35 177.20,385.90 C177.45,388.45 177.72,389.93 178.00,393.50 C178.28,397.07 178.75,405.00 178.90,407.30 C179.08,405.00 179.72,397.07 180.00,393.50 C180.28,389.93 180.37,388.45 180.60,385.90 C180.83,383.35 181.12,380.75 181.40,378.20 C181.68,375.65 181.98,372.88 182.30,370.60 C182.62,368.32 182.75,366.28 183.30,364.50 C183.85,362.72 184.75,361.43 185.60,359.90 C186.45,358.37 187.43,356.70 188.40,355.30 C189.37,353.90 190.47,352.78 191.40,351.50 C192.33,350.22 193.13,348.88 194.00,347.60 C194.87,346.32 195.87,344.97 196.60,343.80 C197.33,342.63 198.33,341.73 198.40,340.60 C198.47,339.47 197.93,338.60 197.00,337.00 C196.07,335.40 194.50,333.00 192.80,331.00 C191.10,329.00 188.60,327.00 186.80,325.00 C185.00,323.00 183.00,321.00 182.00,319.00 C181.00,317.00 181.10,315.00 180.80,313.00 C180.50,311.00 180.50,308.77 180.20,307.00 C179.90,305.23 179.20,303.17 179.00,302.40 Z" fill="none" stroke="#f02a2a" stroke-width="1.15" stroke-linejoin="round"/>
<path d="M174.3,341.8 H183.7 M174.3,347.6 H183.7 M179.0,341.8 V347.6" stroke="#e81c1c" stroke-width="1.9" fill="none"/>
<path d="M241.20,303.20 C241.03,303.83 240.57,305.37 240.20,307.00 C239.83,308.63 239.60,311.00 239.00,313.00 C238.40,315.00 237.70,317.00 236.60,319.00 C235.50,321.00 233.80,323.00 232.40,325.00 C231.00,327.00 229.40,329.20 228.20,331.00 C227.00,332.80 226.03,334.10 225.20,335.80 C224.37,337.50 223.35,339.58 223.20,341.20 C223.05,342.82 223.85,343.88 224.30,345.50 C224.75,347.12 224.90,349.08 225.90,350.90 C226.90,352.72 229.02,354.58 230.30,356.40 C231.58,358.22 232.52,359.98 233.60,361.80 C234.68,363.62 235.93,365.47 236.80,367.30 C237.67,369.13 238.33,370.98 238.80,372.80 C239.27,374.62 239.23,376.48 239.60,378.20 C239.97,379.92 240.77,382.28 241.00,383.10 C241.25,382.28 242.07,379.92 242.50,378.20 C242.93,376.48 243.13,374.62 243.60,372.80 C244.07,370.98 244.52,369.13 245.30,367.30 C246.08,365.47 247.25,363.62 248.30,361.80 C249.35,359.98 250.33,358.22 251.60,356.40 C252.87,354.58 254.90,352.72 255.90,350.90 C256.90,349.08 257.12,347.12 257.60,345.50 C258.08,343.88 258.90,342.82 258.80,341.20 C258.70,339.58 257.80,337.50 257.00,335.80 C256.20,334.10 255.30,332.80 254.00,331.00 C252.70,329.20 250.60,327.00 249.20,325.00 C247.80,323.00 246.53,321.00 245.60,319.00 C244.67,317.00 244.13,315.00 243.60,313.00 C243.07,311.00 242.80,308.63 242.40,307.00 C242.00,305.37 241.40,303.83 241.20,303.20 Z" fill="#fff" fill-opacity="0.72"/>
<g fill="#3aa83a" fill-opacity="0.48">
<circle cx="243.1" cy="339.3" r="1.30"/>
<circle cx="244.1" cy="343.8" r="1.30"/>
<circle cx="241.4" cy="318.0" r="1.30"/>
<circle cx="251.4" cy="353.5" r="1.30"/>
<circle cx="245.1" cy="355.4" r="1.30"/>
<circle cx="225.3" cy="345.4" r="1.30"/>
<circle cx="253.2" cy="338.4" r="1.30"/>
<circle cx="246.0" cy="344.7" r="1.30"/>
<circle cx="233.1" cy="339.7" r="1.30"/>
<circle cx="231.4" cy="328.4" r="1.30"/>
<circle cx="237.5" cy="364.4" r="1.30"/>
<circle cx="239.1" cy="347.9" r="1.30"/>
<circle cx="237.2" cy="320.0" r="1.30"/>
<circle cx="244.6" cy="322.6" r="1.30"/>
<circle cx="239.3" cy="332.9" r="1.30"/>
<circle cx="254.0" cy="349.1" r="1.30"/>
<circle cx="226.9" cy="336.9" r="1.30"/>
<circle cx="233.6" cy="350.9" r="1.30"/>
<circle cx="225.4" cy="338.8" r="1.30"/>
<circle cx="227.9" cy="348.9" r="1.30"/>
<circle cx="244.0" cy="358.4" r="1.30"/>
<circle cx="249.2" cy="341.7" r="1.30"/>
<circle cx="247.6" cy="331.3" r="1.30"/>
<circle cx="251.3" cy="336.5" r="1.30"/>
<circle cx="236.8" cy="353.1" r="1.30"/>
<circle cx="244.9" cy="349.8" r="1.30"/>
<circle cx="237.0" cy="361.4" r="1.30"/>
<circle cx="243.9" cy="361.9" r="1.30"/>
<circle cx="231.4" cy="341.6" r="1.30"/>
<circle cx="240.9" cy="359.0" r="1.30"/>
<circle cx="247.3" cy="327.3" r="1.30"/>
<circle cx="246.9" cy="329.3" r="1.30"/>
<circle cx="240.9" cy="314.1" r="1.30"/>
<circle cx="240.8" cy="353.2" r="1.30"/>
<circle cx="246.5" cy="353.5" r="1.30"/>
<circle cx="235.5" cy="325.0" r="1.30"/>
<circle cx="243.4" cy="333.3" r="1.30"/>
<circle cx="230.5" cy="355.2" r="1.30"/>
<circle cx="248.7" cy="354.5" r="1.30"/>
<circle cx="251.4" cy="346.1" r="1.30"/>
<circle cx="251.2" cy="330.0" r="1.30"/>
<circle cx="249.0" cy="344.5" r="1.30"/>
<circle cx="240.7" cy="378.8" r="1.30"/>
<circle cx="241.9" cy="320.9" r="1.30"/>
<circle cx="249.1" cy="326.4" r="1.30"/>
<circle cx="243.1" cy="370.6" r="1.30"/>
<circle cx="236.8" cy="328.1" r="1.30"/>
<circle cx="230.4" cy="349.0" r="1.30"/>
<circle cx="241.1" cy="346.0" r="1.30"/>
<circle cx="241.6" cy="380.7" r="1.30"/>
<circle cx="237.9" cy="346.2" r="1.30"/>
<circle cx="240.0" cy="324.7" r="1.30"/>
<circle cx="234.5" cy="341.3" r="1.30"/>
<circle cx="234.7" cy="358.1" r="1.30"/>
<circle cx="245.3" cy="331.6" r="1.30"/>
<circle cx="228.9" cy="345.5" r="1.30"/>
<circle cx="247.6" cy="335.4" r="1.30"/>
<circle cx="250.4" cy="340.1" r="1.30"/>
<circle cx="239.8" cy="329.3" r="1.30"/>
<circle cx="239.4" cy="317.7" r="1.30"/>
<circle cx="241.2" cy="351.1" r="1.30"/>
<circle cx="249.5" cy="352.4" r="1.30"/>
<circle cx="237.5" cy="323.7" r="1.30"/>
<circle cx="233.4" cy="332.4" r="1.30"/>
<circle cx="240.2" cy="337.5" r="1.30"/>
<circle cx="256.6" cy="345.0" r="1.30"/>
<circle cx="239.9" cy="360.9" r="1.30"/>
<circle cx="247.0" cy="338.6" r="1.30"/>
<circle cx="238.1" cy="349.7" r="1.30"/>
<circle cx="242.1" cy="365.4" r="1.30"/>
<circle cx="245.7" cy="347.2" r="1.30"/>
<circle cx="232.4" cy="337.1" r="1.30"/>
<circle cx="242.7" cy="329.2" r="1.30"/>
<circle cx="236.3" cy="337.4" r="1.30"/>
<circle cx="236.1" cy="332.4" r="1.30"/>
<circle cx="237.0" cy="334.8" r="1.30"/>
<circle cx="243.3" cy="318.8" r="1.30"/>
<circle cx="241.6" cy="305.0" r="1.30"/>
<circle cx="243.4" cy="346.7" r="1.30"/>
<circle cx="242.3" cy="342.6" r="1.30"/>
<circle cx="238.2" cy="367.3" r="1.30"/>
<circle cx="229.2" cy="333.2" r="1.30"/>
<circle cx="240.3" cy="368.5" r="1.30"/>
<circle cx="251.6" cy="332.9" r="1.30"/>
<circle cx="241.6" cy="372.7" r="1.30"/>
<circle cx="242.2" cy="324.5" r="1.30"/>
<circle cx="239.9" cy="341.6" r="1.30"/>
<circle cx="234.3" cy="328.1" r="1.30"/>
<circle cx="234.9" cy="361.6" r="1.30"/>
<circle cx="248.4" cy="357.3" r="1.30"/>
<circle cx="251.3" cy="343.9" r="1.30"/>
<circle cx="241.0" cy="331.4" r="1.30"/>
<circle cx="248.0" cy="349.3" r="1.30"/>
<circle cx="232.6" cy="348.0" r="1.30"/>
<circle cx="234.2" cy="355.8" r="1.30"/>
<circle cx="232.6" cy="344.7" r="1.30"/>
<circle cx="235.0" cy="348.6" r="1.30"/>
<circle cx="237.8" cy="340.7" r="1.30"/>
<circle cx="255.4" cy="337.7" r="1.30"/>
<circle cx="237.3" cy="343.4" r="1.30"/>
<circle cx="229.3" cy="341.0" r="1.30"/>
<circle cx="246.0" cy="325.3" r="1.30"/>
<circle cx="229.6" cy="343.1" r="1.30"/>
<circle cx="253.3" cy="343.6" r="1.30"/>
<circle cx="231.6" cy="351.8" r="1.30"/>
<circle cx="242.5" cy="348.7" r="1.30"/>
<circle cx="233.8" cy="334.6" r="1.30"/>
<circle cx="256.4" cy="340.1" r="1.30"/>
<circle cx="253.2" cy="334.6" r="1.30"/>
<circle cx="239.9" cy="320.3" r="1.30"/>
<circle cx="231.7" cy="334.7" r="1.30"/>
<circle cx="246.9" cy="361.2" r="1.30"/>
<circle cx="252.0" cy="348.4" r="1.30"/>
<circle cx="240.1" cy="335.4" r="1.30"/>
</g>
<path d="M241.20,303.20 C241.03,303.83 240.57,305.37 240.20,307.00 C239.83,308.63 239.60,311.00 239.00,313.00 C238.40,315.00 237.70,317.00 236.60,319.00 C235.50,321.00 233.80,323.00 232.40,325.00 C231.00,327.00 229.40,329.20 228.20,331.00 C227.00,332.80 226.03,334.10 225.20,335.80 C224.37,337.50 223.35,339.58 223.20,341.20 C223.05,342.82 223.85,343.88 224.30,345.50 C224.75,347.12 224.90,349.08 225.90,350.90 C226.90,352.72 229.02,354.58 230.30,356.40 C231.58,358.22 232.52,359.98 233.60,361.80 C234.68,363.62 235.93,365.47 236.80,367.30 C237.67,369.13 238.33,370.98 238.80,372.80 C239.27,374.62 239.23,376.48 239.60,378.20 C239.97,379.92 240.77,382.28 241.00,383.10 C241.25,382.28 242.07,379.92 242.50,378.20 C242.93,376.48 243.13,374.62 243.60,372.80 C244.07,370.98 244.52,369.13 245.30,367.30 C246.08,365.47 247.25,363.62 248.30,361.80 C249.35,359.98 250.33,358.22 251.60,356.40 C252.87,354.58 254.90,352.72 255.90,350.90 C256.90,349.08 257.12,347.12 257.60,345.50 C258.08,343.88 258.90,342.82 258.80,341.20 C258.70,339.58 257.80,337.50 257.00,335.80 C256.20,334.10 255.30,332.80 254.00,331.00 C252.70,329.20 250.60,327.00 249.20,325.00 C247.80,323.00 246.53,321.00 245.60,319.00 C244.67,317.00 244.13,315.00 243.60,313.00 C243.07,311.00 242.80,308.63 242.40,307.00 C242.00,305.37 241.40,303.83 241.20,303.20 Z" fill="none" stroke="#239a23" stroke-width="1.15" stroke-linejoin="round"/>
<path d="M236.3,341.6 H245.7 M236.3,347.1 H245.7 M241.0,341.6 V347.1" stroke="#0a8a0a" stroke-width="1.9" fill="none"/>
<path d="M289.00,298.20 C288.87,299.23 288.45,302.37 288.20,304.40 C287.95,306.43 287.87,308.40 287.50,310.40 C287.13,312.40 286.65,314.40 286.00,316.40 C285.35,318.40 284.70,320.40 283.60,322.40 C282.50,324.40 281.00,326.60 279.40,328.40 C277.80,330.20 275.73,331.60 274.00,333.20 C272.27,334.80 270.10,336.48 269.00,338.00 C267.90,339.52 267.27,340.88 267.40,342.30 C267.53,343.72 268.68,345.08 269.80,346.50 C270.92,347.92 272.68,349.38 274.10,350.80 C275.52,352.22 277.25,353.58 278.30,355.00 C279.35,356.42 279.80,357.88 280.40,359.30 C281.00,360.72 281.30,362.08 281.90,363.50 C282.50,364.92 283.18,366.13 284.00,367.80 C284.82,369.47 286.22,371.37 286.80,373.50 C287.38,375.63 287.37,378.00 287.50,380.60 C287.63,383.20 287.43,385.92 287.60,389.10 C287.77,392.28 288.35,397.93 288.50,399.70 C288.62,397.93 289.00,392.28 289.20,389.10 C289.40,385.92 289.50,383.20 289.70,380.60 C289.90,378.00 289.77,375.63 290.40,373.50 C291.03,371.37 292.68,369.47 293.50,367.80 C294.32,366.13 294.75,364.92 295.30,363.50 C295.85,362.08 296.08,360.72 296.80,359.30 C297.52,357.88 298.43,356.42 299.60,355.00 C300.77,353.58 302.45,352.22 303.80,350.80 C305.15,349.38 306.63,347.92 307.70,346.50 C308.77,345.08 310.12,343.72 310.20,342.30 C310.28,340.88 309.23,339.52 308.20,338.00 C307.17,336.48 305.50,334.80 304.00,333.20 C302.50,331.60 300.80,330.20 299.20,328.40 C297.60,326.60 295.60,324.40 294.40,322.40 C293.20,320.40 292.60,318.40 292.00,316.40 C291.40,314.40 291.10,312.40 290.80,310.40 C290.50,308.40 290.50,306.43 290.20,304.40 C289.90,302.37 289.20,299.23 289.00,298.20 Z" fill="#fff" fill-opacity="0.72"/>
<g fill="#f04848" fill-opacity="0.48">
<circle cx="295.5" cy="346.4" r="1.30"/>
<circle cx="295.7" cy="354.9" r="1.30"/>
<circle cx="284.7" cy="332.4" r="1.30"/>
<circle cx="285.3" cy="338.9" r="1.30"/>
<circle cx="287.8" cy="358.7" r="1.30"/>
<circle cx="282.9" cy="334.4" r="1.30"/>
<circle cx="289.3" cy="335.1" r="1.30"/>
<circle cx="288.8" cy="380.4" r="1.30"/>
<circle cx="289.6" cy="341.9" r="1.30"/>
<circle cx="285.7" cy="320.8" r="1.30"/>
<circle cx="300.4" cy="337.6" r="1.30"/>
<circle cx="294.7" cy="333.1" r="1.30"/>
<circle cx="275.5" cy="335.2" r="1.30"/>
<circle cx="290.0" cy="321.5" r="1.30"/>
<circle cx="297.2" cy="350.5" r="1.30"/>
<circle cx="277.7" cy="340.9" r="1.30"/>
<circle cx="271.6" cy="336.7" r="1.30"/>
<circle cx="280.8" cy="334.0" r="1.30"/>
<circle cx="294.0" cy="353.2" r="1.30"/>
<circle cx="284.8" cy="323.1" r="1.30"/>
<circle cx="296.7" cy="331.0" r="1.30"/>
<circle cx="275.1" cy="343.2" r="1.30"/>
<circle cx="287.1" cy="323.6" r="1.30"/>
<circle cx="282.8" cy="348.9" r="1.30"/>
<circle cx="304.8" cy="337.7" r="1.30"/>
<circle cx="298.8" cy="334.6" r="1.30"/>
<circle cx="286.6" cy="352.6" r="1.30"/>
<circle cx="287.4" cy="362.7" r="1.30"/>
<circle cx="284.0" cy="362.6" r="1.30"/>
<circle cx="288.4" cy="392.1" r="1.30"/>
<circle cx="284.8" cy="341.5" r="1.30"/>
<circle cx="276.2" cy="346.5" r="1.30"/>
<circle cx="280.9" cy="353.3" r="1.30"/>
<circle cx="298.7" cy="347.2" r="1.30"/>
<circle cx="290.3" cy="361.6" r="1.30"/>
<circle cx="293.6" cy="337.3" r="1.30"/>
<circle cx="283.6" cy="356.8" r="1.30"/>
<circle cx="282.6" cy="329.6" r="1.30"/>
<circle cx="287.1" cy="349.2" r="1.30"/>
<circle cx="289.5" cy="338.5" r="1.30"/>
<circle cx="282.8" cy="345.4" r="1.30"/>
<circle cx="288.9" cy="371.9" r="1.30"/>
<circle cx="278.5" cy="330.1" r="1.30"/>
<circle cx="269.6" cy="340.2" r="1.30"/>
<circle cx="290.2" cy="324.7" r="1.30"/>
<circle cx="288.5" cy="300.4" r="1.30"/>
<circle cx="291.4" cy="351.2" r="1.30"/>
<circle cx="290.7" cy="354.0" r="1.30"/>
<circle cx="300.7" cy="351.4" r="1.30"/>
<circle cx="297.4" cy="356.0" r="1.30"/>
<circle cx="281.3" cy="340.3" r="1.30"/>
<circle cx="306.4" cy="342.6" r="1.30"/>
<circle cx="287.9" cy="365.2" r="1.30"/>
<circle cx="305.8" cy="346.8" r="1.30"/>
<circle cx="292.7" cy="367.0" r="1.30"/>
<circle cx="287.6" cy="315.3" r="1.30"/>
<circle cx="289.5" cy="367.6" r="1.30"/>
<circle cx="292.5" cy="331.1" r="1.30"/>
<circle cx="288.6" cy="397.4" r="1.30"/>
<circle cx="285.7" cy="366.2" r="1.30"/>
<circle cx="304.3" cy="342.4" r="1.30"/>
<circle cx="296.8" cy="343.4" r="1.30"/>
<circle cx="280.8" cy="338.0" r="1.30"/>
<circle cx="273.3" cy="346.7" r="1.30"/>
<circle cx="284.7" cy="353.8" r="1.30"/>
<circle cx="292.5" cy="362.0" r="1.30"/>
<circle cx="294.2" cy="344.1" r="1.30"/>
<circle cx="301.6" cy="343.6" r="1.30"/>
<circle cx="274.9" cy="337.2" r="1.30"/>
<circle cx="285.9" cy="356.5" r="1.30"/>
<circle cx="288.7" cy="382.6" r="1.30"/>
<circle cx="293.8" cy="349.1" r="1.30"/>
<circle cx="294.0" cy="358.2" r="1.30"/>
<circle cx="291.5" cy="336.2" r="1.30"/>
<circle cx="288.0" cy="325.4" r="1.30"/>
<circle cx="281.3" cy="356.7" r="1.30"/>
<circle cx="280.6" cy="345.1" r="1.30"/>
<circle cx="279.4" cy="336.5" r="1.30"/>
<circle cx="288.6" cy="311.8" r="1.30"/>
<circle cx="294.7" cy="341.2" r="1.30"/>
<circle cx="302.7" cy="339.5" r="1.30"/>
<circle cx="289.5" cy="307.2" r="1.30"/>
<circle cx="291.8" cy="341.4" r="1.30"/>
<circle cx="280.9" cy="349.8" r="1.30"/>
<circle cx="307.1" cy="344.8" r="1.30"/>
<circle cx="307.1" cy="338.0" r="1.30"/>
<circle cx="277.0" cy="351.6" r="1.30"/>
<circle cx="300.4" cy="331.4" r="1.30"/>
<circle cx="298.0" cy="340.1" r="1.30"/>
<circle cx="278.2" cy="349.8" r="1.30"/>
<circle cx="303.4" cy="348.8" r="1.30"/>
<circle cx="290.2" cy="370.1" r="1.30"/>
<circle cx="302.9" cy="334.6" r="1.30"/>
<circle cx="295.7" cy="327.9" r="1.30"/>
<circle cx="278.3" cy="333.4" r="1.30"/>
<circle cx="288.6" cy="354.7" r="1.30"/>
<circle cx="288.4" cy="331.1" r="1.30"/>
<circle cx="279.0" cy="343.4" r="1.30"/>
<circle cx="289.3" cy="316.4" r="1.30"/>
<circle cx="286.8" cy="345.0" r="1.30"/>
<circle cx="294.7" cy="360.4" r="1.30"/>
<circle cx="293.6" cy="324.9" r="1.30"/>
<circle cx="284.2" cy="326.5" r="1.30"/>
<circle cx="291.8" cy="319.4" r="1.30"/>
<circle cx="282.0" cy="342.5" r="1.30"/>
<circle cx="296.4" cy="334.9" r="1.30"/>
<circle cx="276.9" cy="331.9" r="1.30"/>
<circle cx="286.6" cy="318.4" r="1.30"/>
<circle cx="299.3" cy="353.0" r="1.30"/>
<circle cx="278.9" cy="347.3" r="1.30"/>
<circle cx="274.3" cy="340.7" r="1.30"/>
<circle cx="274.4" cy="348.9" r="1.30"/>
<circle cx="288.6" cy="395.3" r="1.30"/>
<circle cx="289.1" cy="350.7" r="1.30"/>
<circle cx="271.5" cy="339.0" r="1.30"/>
<circle cx="286.6" cy="327.4" r="1.30"/>
<circle cx="290.4" cy="356.9" r="1.30"/>
<circle cx="271.8" cy="341.0" r="1.30"/>
<circle cx="302.5" cy="346.0" r="1.30"/>
<circle cx="283.8" cy="343.7" r="1.30"/>
<circle cx="293.8" cy="356.1" r="1.30"/>
</g>
<path d="M289.00,298.20 C288.87,299.23 288.45,302.37 288.20,304.40 C287.95,306.43 287.87,308.40 287.50,310.40 C287.13,312.40 286.65,314.40 286.00,316.40 C285.35,318.40 284.70,320.40 283.60,322.40 C282.50,324.40 281.00,326.60 279.40,328.40 C277.80,330.20 275.73,331.60 274.00,333.20 C272.27,334.80 270.10,336.48 269.00,338.00 C267.90,339.52 267.27,340.88 267.40,342.30 C267.53,343.72 268.68,345.08 269.80,346.50 C270.92,347.92 272.68,349.38 274.10,350.80 C275.52,352.22 277.25,353.58 278.30,355.00 C279.35,356.42 279.80,357.88 280.40,359.30 C281.00,360.72 281.30,362.08 281.90,363.50 C282.50,364.92 283.18,366.13 284.00,367.80 C284.82,369.47 286.22,371.37 286.80,373.50 C287.38,375.63 287.37,378.00 287.50,380.60 C287.63,383.20 287.43,385.92 287.60,389.10 C287.77,392.28 288.35,397.93 288.50,399.70 C288.62,397.93 289.00,392.28 289.20,389.10 C289.40,385.92 289.50,383.20 289.70,380.60 C289.90,378.00 289.77,375.63 290.40,373.50 C291.03,371.37 292.68,369.47 293.50,367.80 C294.32,366.13 294.75,364.92 295.30,363.50 C295.85,362.08 296.08,360.72 296.80,359.30 C297.52,357.88 298.43,356.42 299.60,355.00 C300.77,353.58 302.45,352.22 303.80,350.80 C305.15,349.38 306.63,347.92 307.70,346.50 C308.77,345.08 310.12,343.72 310.20,342.30 C310.28,340.88 309.23,339.52 308.20,338.00 C307.17,336.48 305.50,334.80 304.00,333.20 C302.50,331.60 300.80,330.20 299.20,328.40 C297.60,326.60 295.60,324.40 294.40,322.40 C293.20,320.40 292.60,318.40 292.00,316.40 C291.40,314.40 291.10,312.40 290.80,310.40 C290.50,308.40 290.50,306.43 290.20,304.40 C289.90,302.37 289.20,299.23 289.00,298.20 Z" fill="none" stroke="#f02a2a" stroke-width="1.15" stroke-linejoin="round"/>
<path d="M283.9,341.5 H293.3 M283.9,345.8 H293.3 M288.6,341.5 V345.8" stroke="#e81c1c" stroke-width="1.9" fill="none"/>
<g fill="#1f9a1f">
<circle cx="236.6" cy="319.6" r="1.15"/>
<circle cx="245.6" cy="320.4" r="1.15"/>
<circle cx="227.0" cy="333.2" r="1.15"/>
<circle cx="255.6" cy="333.7" r="1.15"/>
<circle cx="223.4" cy="337.6" r="1.15"/>
<circle cx="258.2" cy="338.0" r="1.15"/>
<circle cx="223.2" cy="341.2" r="1.15"/>
<circle cx="258.8" cy="341.2" r="1.15"/>
<circle cx="226.5" cy="352.6" r="1.15"/>
<circle cx="255.4" cy="352.6" r="1.15"/>
<circle cx="235.2" cy="366.2" r="1.15"/>
<circle cx="245.6" cy="366.2" r="1.15"/>
</g>
<g fill="#1f9a1f">
<circle cx="132.6" cy="316.5" r="1.15"/>
<circle cx="129.9" cy="386.0" r="1.15"/>
<circle cx="131.4" cy="395.5" r="1.15"/>
<circle cx="129.8" cy="374.0" r="1.15"/>
</g>
<g fill="#ee2a2a">
<circle cx="177.6" cy="308.0" r="1.15"/>
<circle cx="180.6" cy="324.0" r="1.15"/>
<circle cx="177.7" cy="383.0" r="1.15"/>
<circle cx="178.5" cy="392.0" r="1.15"/>
</g>
<g fill="#ee2a2a">
<circle cx="287.6" cy="381.5" r="1.15"/>
</g>
<text x="131.9" y="433.8" font-size="11.70" fill="#8a8a8a" text-anchor="middle" >Positive</text>
<text x="178.2" y="433.8" font-size="11.70" fill="#8a8a8a" text-anchor="middle" >Negative</text>
<text x="242.1" y="433.8" font-size="11.70" fill="#8a8a8a" text-anchor="middle" >Positive</text>
<text x="288.8" y="433.8" font-size="11.70" fill="#8a8a8a" text-anchor="middle" >Negative</text>
<text x="210.4" y="456.6" font-size="14.50" fill="#444444" text-anchor="middle" >Feedback</text>
<text x="356.3" y="262.6" font-size="20.00" fill="#000" text-anchor="start" >d</text>
<g transform="translate(386.2,382.8) rotate(-90)">
<text x="0" y="0.0" font-size="15.75" fill="#111" text-anchor="middle">Regression slopes</text>
</g>
<text x="418.3" y="357.8" font-size="11.50" fill="#4d4d4d" text-anchor="end" >0.2</text>
<path d="M420,353.9 H423.2" stroke="#333" stroke-width="1.2"/>
<path d="M429.3,353.9 H681.5" stroke="#a0a0a0" stroke-width="1.3" stroke-dasharray="1.3,4.817"/>
<text x="418.3" y="376.4" font-size="11.50" fill="#4d4d4d" text-anchor="end" >0.0</text>
<path d="M420,372.5 H423.2" stroke="#333" stroke-width="1.2"/>
<path d="M429.3,372.5 H681.5" stroke="#a0a0a0" stroke-width="1.3" stroke-dasharray="1.3,4.817"/>
<text x="418.3" y="395.0" font-size="11.50" fill="#4d4d4d" text-anchor="end" >−0.2</text>
<path d="M420,391.1 H423.2" stroke="#333" stroke-width="1.2"/>
<path d="M429.3,391.1 H681.5" stroke="#a0a0a0" stroke-width="1.3" stroke-dasharray="1.3,4.817"/>
<text x="418.3" y="413.6" font-size="11.50" fill="#4d4d4d" text-anchor="end" >−0.4</text>
<path d="M420,409.7 H423.2" stroke="#333" stroke-width="1.2"/>
<path d="M429.3,409.7 H681.5" stroke="#a0a0a0" stroke-width="1.3" stroke-dasharray="1.3,4.817"/>
<rect x="431" y="266" width="16.8" height="19.1" fill="#da70d6"/>
<rect x="431" y="301.6" width="16.8" height="19.1" fill="#c8c476"/>
<rect x="555.4" y="265.9" width="16.6" height="19.2" fill="#00bfff"/>
<rect x="557" y="301.4" width="16.3" height="19.6" fill="#528b8b"/>
<text x="452.6" y="274.1" font-size="11.70" fill="#1a1a1a" text-anchor="start" >Local</text>
<text x="452.6" y="284.8" font-size="11.70" fill="#1a1a1a" text-anchor="start" >confidence</text>
<text x="452.6" y="309.7" font-size="11.70" fill="#1a1a1a" text-anchor="start" >Global SPE</text>
<text x="452.6" y="320.4" font-size="11.70" fill="#1a1a1a" text-anchor="start" >(prospective)</text>
<text x="576.2" y="273.9" font-size="11.70" fill="#1a1a1a" text-anchor="start" >Global SPE</text>
<text x="576.2" y="284.6" font-size="11.70" fill="#1a1a1a" text-anchor="start" >(retrospective)</text>
<text x="580.0" y="314.5" font-size="11.70" fill="#1a1a1a" text-anchor="start" >Accuracy</text>
<rect x="436.4" y="372.5" width="16.4" height="31.9" fill="#da70d6"/>
<rect x="454.9" y="372.5" width="16.4" height="26.8" fill="#00bfff"/>
<rect x="473.3" y="372.5" width="16.4" height="25.8" fill="#c8c476"/>
<rect x="491.8" y="372.5" width="16.4" height="5.2" fill="#528b8b"/>
<rect x="518.4" y="356.9" width="16.4" height="15.6" fill="#da70d6"/>
<rect x="536.8" y="362.8" width="16.4" height="9.7" fill="#00bfff"/>
<rect x="555.2" y="364.0" width="16.4" height="8.5" fill="#c8c476"/>
<rect x="573.7" y="372.5" width="16.4" height="4.9" fill="#528b8b"/>
<rect x="600.3" y="372.5" width="16.4" height="0.6" fill="#da70d6"/>
<rect x="618.8" y="364.8" width="16.4" height="7.7" fill="#00bfff"/>
<rect x="637.2" y="372.5" width="16.4" height="1.6" fill="#c8c476"/>
<rect x="655.7" y="355.4" width="16.4" height="17.1" fill="#528b8b"/>
<path d="M444.6,392.7 V416.2" stroke="#000" stroke-width="2.8"/>
<path d="M442.3,393.3 H446.9 M442.3,415.6 H446.9" stroke="#000" stroke-width="2.2"/>
<path d="M462.9,387.2 V411.1" stroke="#000" stroke-width="2.8"/>
<path d="M460.6,387.8 H465.2 M460.6,410.5 H465.2" stroke="#000" stroke-width="2.2"/>
<path d="M481.6,385.8 V409.7" stroke="#000" stroke-width="2.8"/>
<path d="M479.3,386.4 H483.9 M479.3,409.1 H483.9" stroke="#000" stroke-width="2.2"/>
<path d="M499.9,365.1 V390.7" stroke="#000" stroke-width="2.8"/>
<path d="M497.6,365.7 H502.2 M497.6,390.1 H502.2" stroke="#000" stroke-width="2.2"/>
<path d="M526.7,340.6 V372.7" stroke="#000" stroke-width="2.8"/>
<path d="M524.4,341.2 H529.0 M524.4,372.1 H529.0" stroke="#000" stroke-width="2.2"/>
<path d="M545.0,346.5 V378.5" stroke="#000" stroke-width="2.8"/>
<path d="M542.7,347.1 H547.3 M542.7,377.9 H547.3" stroke="#000" stroke-width="2.2"/>
<path d="M563.4,347.5 V379.9" stroke="#000" stroke-width="2.8"/>
<path d="M561.1,348.1 H565.7 M561.1,379.3 H565.7" stroke="#000" stroke-width="2.2"/>
<path d="M582.1,360.9 V394.3" stroke="#000" stroke-width="2.8"/>
<path d="M579.8,361.5 H584.4 M579.8,393.7 H584.4" stroke="#000" stroke-width="2.2"/>
<path d="M608.4,358.3 V385.8" stroke="#000" stroke-width="2.8"/>
<path d="M606.1,358.9 H610.7 M606.1,385.2 H610.7" stroke="#000" stroke-width="2.2"/>
<path d="M626.8,350.5 V378.5" stroke="#000" stroke-width="2.8"/>
<path d="M624.5,351.1 H629.1 M624.5,377.9 H629.1" stroke="#000" stroke-width="2.2"/>
<path d="M645.5,360.3 V388.4" stroke="#000" stroke-width="2.8"/>
<path d="M643.2,360.9 H647.8 M643.2,387.8 H647.8" stroke="#000" stroke-width="2.2"/>
<path d="M663.8,340.2 V369.5" stroke="#000" stroke-width="2.8"/>
<path d="M661.5,340.8 H666.1 M661.5,368.9 H666.1" stroke="#000" stroke-width="2.2"/>
<text x="445.2" y="430.0" font-size="11.50" fill="#111" text-anchor="middle" >****</text>
<text x="463.8" y="425.8" font-size="11.50" fill="#111" text-anchor="middle" >****</text>
<text x="484.6" y="424.8" font-size="11.50" fill="#111" text-anchor="middle" >****</text>
<text x="526.7" y="341.3" font-size="11.50" fill="#111" text-anchor="middle" >*</text>
<text x="663.8" y="340.7" font-size="11.50" fill="#111" text-anchor="middle" >**</text>
<path d="M472.2,427.5 V430.8" stroke="#333" stroke-width="1.2"/>
<path d="M554.4,427.5 V430.8" stroke="#333" stroke-width="1.2"/>
<path d="M636.4,427.5 V430.8" stroke="#333" stroke-width="1.2"/>
<text x="472.4" y="441.2" font-size="11.70" fill="#555" text-anchor="middle" >Anxious–</text>
<text x="472.4" y="454.7" font-size="11.70" fill="#555" text-anchor="middle" >Depression</text>
<text x="553.7" y="441.2" font-size="11.70" fill="#555" text-anchor="middle" >Compulsivity &amp;</text>
<text x="553.7" y="454.7" font-size="11.70" fill="#555" text-anchor="middle" >Intrusive Thought</text>
<text x="635.2" y="441.2" font-size="11.70" fill="#555" text-anchor="middle" >Social</text>
<text x="635.2" y="454.7" font-size="11.70" fill="#555" text-anchor="middle" >Withdrawal</text>
</svg></body></html>
